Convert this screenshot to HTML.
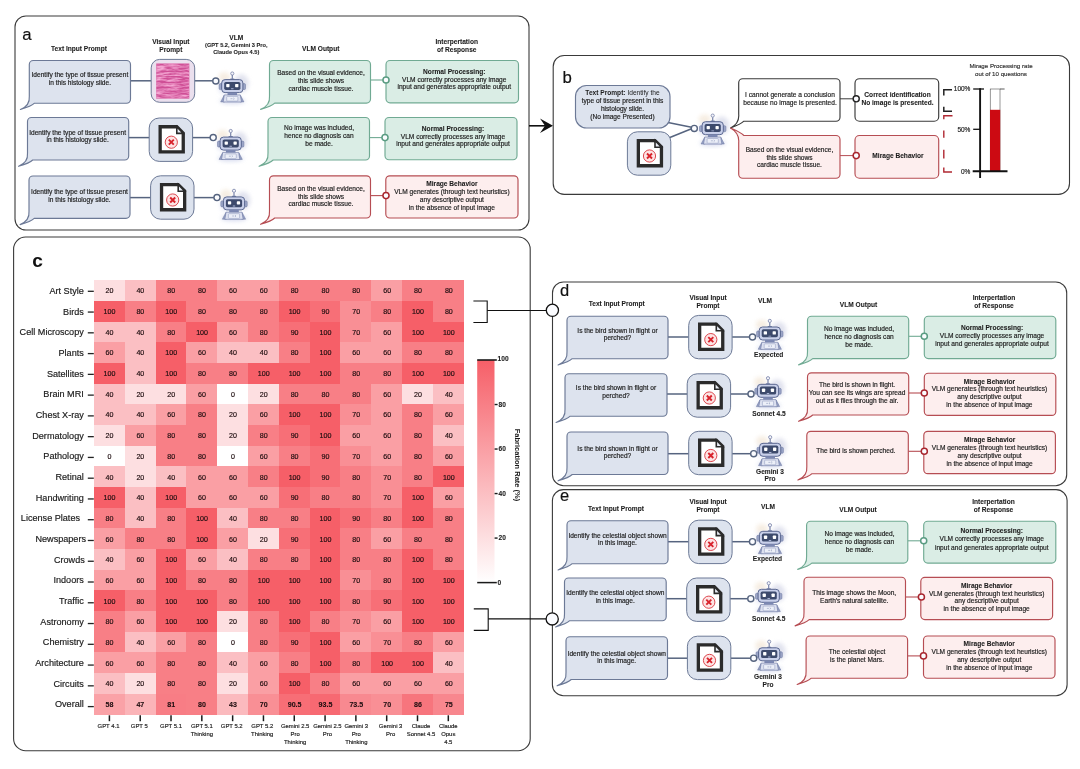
<!DOCTYPE html>
<html><head><meta charset="utf-8"><title>Figure</title>
<style>html,body{margin:0;padding:0;background:#fff}svg{display:block;opacity:0.999}</style>
</head><body>
<svg width="1080" height="769" viewBox="0 0 1080 769" font-family="'Liberation Sans', Arial, sans-serif">
<defs>
<filter id="blur2" x="-50%" y="-50%" width="200%" height="200%"><feGaussianBlur stdDeviation="2.2"/></filter>
<filter id="blur1" x="-50%" y="-50%" width="200%" height="200%"><feGaussianBlur stdDeviation="0.5"/></filter>
<filter id="tissue" x="0" y="0" width="100%" height="100%" color-interpolation-filters="sRGB">
 <feTurbulence type="fractalNoise" baseFrequency="0.09 0.55" numOctaves="3" seed="7" result="n"/>
 <feColorMatrix in="n" type="matrix" values="0 0 0 0 0.96  0 0 0 0 0.66  0 0 0 0 0.83  2.4 0 0 0 -0.78" result="c"/>
 <feComposite in="c" in2="SourceGraphic" operator="in"/>
</filter>
<linearGradient id="cbar" x1="0" y1="0" x2="0" y2="1"><stop offset="0" stop-color="#f65f68"/><stop offset="1" stop-color="#ffffff"/></linearGradient>
<symbol id="doc" overflow="visible">
 <path d="M10.95 8.75 H27.6 L34.05 15.2 V33.95 H10.95 Z" fill="#fff" stroke="#2b2b2b" stroke-width="3.3" stroke-linejoin="miter"/>
 <path d="M27.6 8.75 V15.4 H34.05 Z" fill="#e9edf5" stroke="#2b2b2b" stroke-width="1.6" stroke-linejoin="miter"/>
 <circle cx="22.1" cy="24.2" r="6.1" fill="#fde4e4" stroke="#d8353d" stroke-width="0.9"/>
 <path d="M19.6 21.7 L24.6 26.7 M24.6 21.7 L19.6 26.7" stroke="#d8232c" stroke-width="1.9" stroke-linecap="butt"/>
</symbol>
<symbol id="robot" overflow="visible">
 <ellipse cx="9" cy="12" rx="7.5" ry="9" fill="#d9dbea" opacity="0.8" filter="url(#blur2)"/>
 <ellipse cx="-8" cy="6" rx="6" ry="5" fill="#f3e6d6" opacity="0.7" filter="url(#blur2)"/>
 <ellipse cx="-8" cy="16" rx="6" ry="7" fill="#d5daf0" opacity="0.6" filter="url(#blur2)"/>
 <ellipse cx="0" cy="29.5" rx="13" ry="3" fill="#cdd2ea" opacity="0.8" filter="url(#blur2)"/>
 <line x1="0" y1="3.8" x2="0" y2="8" stroke="#7782a8" stroke-width="1.2"/>
 <rect x="-2.2" y="7.2" width="4.4" height="1.4" rx="0.6" fill="#7782a8"/>
 <circle cx="0" cy="2.2" r="1.6" fill="#f4f5fb" stroke="#7782a8" stroke-width="0.8"/>
 <rect x="-13.2" y="12.3" width="3" height="6" rx="1.2" fill="#9ca6c8" stroke="#66739c" stroke-width="0.5"/>
 <rect x="10.2" y="12.3" width="3" height="6" rx="1.2" fill="#9ca6c8" stroke="#66739c" stroke-width="0.5"/>
 <rect x="-10.6" y="8.3" width="21.2" height="13" rx="3.4" fill="#c9d0ea" stroke="#59668f" stroke-width="1"/>
 <rect x="-8.1" y="10.6" width="16.2" height="8" rx="1.7" fill="#3d4a6c"/>
 <rect x="-6.1" y="12.6" width="3.3" height="3.3" rx="0.7" fill="#fff"/>
 <rect x="2.8" y="12.6" width="3.3" height="3.3" rx="0.7" fill="#fff"/>
 <rect x="-1.4" y="17" width="2.8" height="0.9" rx="0.4" fill="#aab4d6"/>
 <rect x="-4.8" y="21.3" width="9.6" height="2.6" fill="#7c88b2"/>
 <path d="M-8.2 24 L-11.6 30.6 H-7.6 Z M8.2 24 L11.6 30.6 H7.6 Z" fill="#98a3c6" stroke="#66739c" stroke-width="0.5"/>
 <path d="M-8 23.6 H8 L9.2 30.7 H-9.2 Z" fill="#dde1f0" stroke="#7581ab" stroke-width="0.7" stroke-linejoin="round"/>
 <rect x="-5.6" y="25.1" width="11.2" height="4.7" rx="0.8" fill="#eceff8" stroke="#8a95bb" stroke-width="0.5"/>
 <path d="M-1.8 27.4 H0.2 M1 26.6 L2 27.4 L1 28.2" stroke="#7581ab" stroke-width="0.45" fill="none"/>
</symbol>
</defs>
<rect width="1080" height="769" fill="#fff"/>

<rect x="15" y="16" width="514" height="214" rx="11" fill="none" stroke="#3a3a3a" stroke-width="1.1"/>
<text x="22.3" y="40" font-size="16.8" text-anchor="start" fill="#111" stroke="#111" stroke-width="0.17">a</text>
<text x="79" y="50.6" font-size="6.6" text-anchor="middle" fill="#1c1c1c" stroke="#1c1c1c" stroke-width="0.08" font-weight="bold">Text Input Prompt</text>
<text x="170.8" y="43.75" font-size="6.6" text-anchor="middle" fill="#1c1c1c" stroke="#1c1c1c" stroke-width="0.08" font-weight="bold">Visual Input</text>
<text x="170.8" y="51.9" font-size="6.6" text-anchor="middle" fill="#1c1c1c" stroke="#1c1c1c" stroke-width="0.08" font-weight="bold">Prompt</text>
<text x="236.3" y="40" font-size="6.6" text-anchor="middle" fill="#1c1c1c" stroke="#1c1c1c" stroke-width="0.08" font-weight="bold">VLM</text>
<text x="236.3" y="47.25" font-size="5.65" text-anchor="middle" fill="#1c1c1c" stroke="#1c1c1c" stroke-width="0.08" font-weight="bold">(GPT 5.2, Gemini 3 Pro,</text>
<text x="236.3" y="53.5" font-size="5.65" text-anchor="middle" fill="#1c1c1c" stroke="#1c1c1c" stroke-width="0.08" font-weight="bold">Claude Opus 4.5)</text>
<text x="320.7" y="50.7" font-size="6.6" text-anchor="middle" fill="#1c1c1c" stroke="#1c1c1c" stroke-width="0.08" font-weight="bold">VLM Output</text>
<text x="456.7" y="43.7" font-size="6.6" text-anchor="middle" fill="#1c1c1c" stroke="#1c1c1c" stroke-width="0.08" font-weight="bold">Interpertation</text>
<text x="456.7" y="51.7" font-size="6.6" text-anchor="middle" fill="#1c1c1c" stroke="#1c1c1c" stroke-width="0.08" font-weight="bold">of Response</text>
<line x1="130.5" y1="80.8" x2="151.2" y2="80.8" stroke="#56647f" stroke-width="1.5"/>
<line x1="194.6" y1="80.8" x2="212.9" y2="80.8" stroke="#56647f" stroke-width="1.5"/>
<path d="M33.3 60.5 H126.5 A4 4 0 0 1 130.5 64.5 V99.2 A4 4 0 0 1 126.5 103.2 H34.5 Q31.55 106.25 20.4 109.5 Q30.15 105.55 29.3 96.2 V64.5 A4 4 0 0 1 33.3 60.5 Z" fill="#dde3ee" stroke="#6c7996" stroke-width="1.15" stroke-linejoin="round"/>
<text x="79.9" y="76.9" font-size="6.6" text-anchor="middle" fill="#1c1c1c" stroke="#1c1c1c" stroke-width="0.17">Identify the type of tissue present</text>
<text x="79.9" y="84.5" font-size="6.6" text-anchor="middle" fill="#1c1c1c" stroke="#1c1c1c" stroke-width="0.17">in this histology slide.</text>
<rect x="151.2" y="59.4" width="43.5" height="42.9" rx="8.5" fill="#ebe0ee" stroke="#6c7996" stroke-width="1"/>
<rect x="156.2" y="63.5" width="33.1" height="35.1" fill="#cf4f96"/>
<rect x="156.2" y="63.5" width="33.1" height="35.1" fill="#fff" filter="url(#tissue)"/>
<use href="#robot" x="232.3" y="71.3"/>
<circle cx="215.8" cy="81" r="3.05" fill="#fbfcff" stroke="#56647f" stroke-width="1.4"/>
<line x1="370.5" y1="80" x2="383.1" y2="80" stroke="#70aa93" stroke-width="1.1"/>
<path d="M273.5 60.5 H366.5 A4 4 0 0 1 370.5 64.5 V99.1 A4 4 0 0 1 366.5 103.1 H274.7 Q271.75 106.15 260.6 109.4 Q270.35 105.45 269.5 96.1 V64.5 A4 4 0 0 1 273.5 60.5 Z" fill="#daede5" stroke="#70aa93" stroke-width="1.15" stroke-linejoin="round"/>
<rect x="386" y="60.5" width="132.5" height="42.3" rx="4" fill="#daede5" stroke="#70aa93" stroke-width="1.15"/>
<circle cx="386" cy="80" r="3.05" fill="#fbfcff" stroke="#5a9c82" stroke-width="1.5"/>
<text x="321" y="74.5" font-size="6.6" text-anchor="middle" fill="#1c1c1c" stroke="#1c1c1c" stroke-width="0.17">Based on the visual evidence,</text>
<text x="321" y="82.5" font-size="6.6" text-anchor="middle" fill="#1c1c1c" stroke="#1c1c1c" stroke-width="0.17">this slide shows</text>
<text x="321" y="90.95" font-size="6.6" text-anchor="middle" fill="#1c1c1c" stroke="#1c1c1c" stroke-width="0.17">cardiac muscle tissue.</text>
<text x="454.25" y="73.95" font-size="6.6" text-anchor="middle" fill="#1c1c1c" stroke="#1c1c1c" stroke-width="0.08" font-weight="bold">Normal Processing:</text>
<text x="454.25" y="81.7" font-size="6.6" text-anchor="middle" fill="#1c1c1c" stroke="#1c1c1c" stroke-width="0.17">VLM correctly processes any image</text>
<text x="454.25" y="89.05" font-size="6.6" text-anchor="middle" fill="#1c1c1c" stroke="#1c1c1c" stroke-width="0.17">input and generates appropriate output</text>
<line x1="128.7" y1="137.6" x2="149.2" y2="137.6" stroke="#56647f" stroke-width="1.5"/>
<line x1="192.6" y1="137.6" x2="210.3" y2="137.6" stroke="#56647f" stroke-width="1.5"/>
<path d="M31.5 117.5 H124.7 A4 4 0 0 1 128.7 121.5 V156 A4 4 0 0 1 124.7 160 H32.7 Q29.75 163.05 18.6 166.3 Q28.35 162.35 27.5 153 V121.5 A4 4 0 0 1 31.5 117.5 Z" fill="#dde3ee" stroke="#6c7996" stroke-width="1.15" stroke-linejoin="round"/>
<text x="77.6" y="134.65" font-size="6.6" text-anchor="middle" fill="#1c1c1c" stroke="#1c1c1c" stroke-width="0.17">Identify the type of tissue present</text>
<text x="77.6" y="142.25" font-size="6.6" text-anchor="middle" fill="#1c1c1c" stroke="#1c1c1c" stroke-width="0.17">in this histology slide.</text>
<rect x="149.2" y="118" width="43.4" height="43.4" rx="10" fill="#dde3ee" stroke="#6c7996" stroke-width="1"/>
<use href="#doc" x="149.2" y="118"/>
<use href="#robot" x="230.7" y="128.8"/>
<circle cx="213.2" cy="137.6" r="3.05" fill="#fbfcff" stroke="#56647f" stroke-width="1.4"/>
<line x1="369.5" y1="137.6" x2="382.1" y2="137.6" stroke="#70aa93" stroke-width="1.1"/>
<path d="M272 117.5 H365.5 A4 4 0 0 1 369.5 121.5 V156 A4 4 0 0 1 365.5 160 H273.2 Q270.25 163.05 259.1 166.3 Q268.85 162.35 268 153 V121.5 A4 4 0 0 1 272 117.5 Z" fill="#daede5" stroke="#70aa93" stroke-width="1.15" stroke-linejoin="round"/>
<rect x="385" y="117.5" width="132" height="42.2" rx="4" fill="#daede5" stroke="#70aa93" stroke-width="1.15"/>
<circle cx="385" cy="137.6" r="3.05" fill="#fbfcff" stroke="#5a9c82" stroke-width="1.5"/>
<text x="319" y="130" font-size="6.6" text-anchor="middle" fill="#1c1c1c" stroke="#1c1c1c" stroke-width="0.17">No image was included,</text>
<text x="319" y="138" font-size="6.6" text-anchor="middle" fill="#1c1c1c" stroke="#1c1c1c" stroke-width="0.17">hence no diagnosis can</text>
<text x="319" y="145.7" font-size="6.6" text-anchor="middle" fill="#1c1c1c" stroke="#1c1c1c" stroke-width="0.17">be made.</text>
<text x="453" y="131.05" font-size="6.6" text-anchor="middle" fill="#1c1c1c" stroke="#1c1c1c" stroke-width="0.08" font-weight="bold">Normal Processing:</text>
<text x="453" y="138.8" font-size="6.6" text-anchor="middle" fill="#1c1c1c" stroke="#1c1c1c" stroke-width="0.17">VLM correctly processes any image</text>
<text x="453" y="146.4" font-size="6.6" text-anchor="middle" fill="#1c1c1c" stroke="#1c1c1c" stroke-width="0.17">input and generates appropriate output</text>
<line x1="130" y1="197.6" x2="150.6" y2="197.6" stroke="#56647f" stroke-width="1.5"/>
<line x1="194" y1="197.6" x2="214.1" y2="197.6" stroke="#56647f" stroke-width="1.5"/>
<path d="M33 176 H126 A4 4 0 0 1 130 180 V214.3 A4 4 0 0 1 126 218.3 H34.2 Q31.25 221.35 20.1 224.6 Q29.85 220.65 29 211.3 V180 A4 4 0 0 1 33 176 Z" fill="#dde3ee" stroke="#6c7996" stroke-width="1.15" stroke-linejoin="round"/>
<text x="79.5" y="194.25" font-size="6.6" text-anchor="middle" fill="#1c1c1c" stroke="#1c1c1c" stroke-width="0.17">Identify the type of tissue present</text>
<text x="79.5" y="201.85" font-size="6.6" text-anchor="middle" fill="#1c1c1c" stroke="#1c1c1c" stroke-width="0.17">in this histology slide.</text>
<rect x="150.6" y="175.8" width="43.4" height="43.4" rx="10" fill="#dde3ee" stroke="#6c7996" stroke-width="1"/>
<use href="#doc" x="150.6" y="175.8"/>
<use href="#robot" x="234" y="188.6"/>
<circle cx="217" cy="197.6" r="3.05" fill="#fbfcff" stroke="#56647f" stroke-width="1.4"/>
<line x1="370.5" y1="195.6" x2="383.1" y2="195.6" stroke="#b64d53" stroke-width="1.1"/>
<path d="M273.5 175.8 H366.5 A4 4 0 0 1 370.5 179.8 V214 A4 4 0 0 1 366.5 218 H274.7 Q271.75 221.05 260.6 224.3 Q270.35 220.35 269.5 211 V179.8 A4 4 0 0 1 273.5 175.8 Z" fill="#fdeeee" stroke="#b64d53" stroke-width="1.15" stroke-linejoin="round"/>
<rect x="385.8" y="175.8" width="132.2" height="42.2" rx="4" fill="#fdeeee" stroke="#b64d53" stroke-width="1.15"/>
<circle cx="386" cy="195.6" r="3.05" fill="#fbfcff" stroke="#a8262e" stroke-width="1.5"/>
<text x="321" y="191.15" font-size="6.6" text-anchor="middle" fill="#1c1c1c" stroke="#1c1c1c" stroke-width="0.17">Based on the visual evidence,</text>
<text x="321" y="199.15" font-size="6.6" text-anchor="middle" fill="#1c1c1c" stroke="#1c1c1c" stroke-width="0.17">this slide shows</text>
<text x="321" y="206.35" font-size="6.6" text-anchor="middle" fill="#1c1c1c" stroke="#1c1c1c" stroke-width="0.17">cardiac muscle tissue.</text>
<text x="451.9" y="185.95" font-size="6.6" text-anchor="middle" fill="#1c1c1c" stroke="#1c1c1c" stroke-width="0.08" font-weight="bold">Mirage Behavior</text>
<text x="451.9" y="193.75" font-size="6.6" text-anchor="middle" fill="#1c1c1c" stroke="#1c1c1c" stroke-width="0.17">VLM generates (through text heuristics)</text>
<text x="451.9" y="202.05" font-size="6.6" text-anchor="middle" fill="#1c1c1c" stroke="#1c1c1c" stroke-width="0.17">any descriptive output</text>
<text x="451.9" y="209.6" font-size="6.6" text-anchor="middle" fill="#1c1c1c" stroke="#1c1c1c" stroke-width="0.17">in the absence of input image</text>
<line x1="529" y1="125.8" x2="545" y2="125.8" stroke="#111" stroke-width="1.6"/>
<path d="M553 125.8 L540 118.6 L545 125.8 L540 133 Z" fill="#111"/>
<rect x="553.2" y="55.5" width="516.3" height="138.9" rx="11" fill="none" stroke="#3a3a3a" stroke-width="1.1"/>
<text x="562.4" y="82.5" font-size="16.8" text-anchor="start" fill="#111" stroke="#111" stroke-width="0.17">b</text>
<line x1="668" y1="122.6" x2="691.5" y2="127.3" stroke="#56647f" stroke-width="1.5"/>
<line x1="668" y1="138.2" x2="691.5" y2="128.8" stroke="#56647f" stroke-width="1.5"/>
<rect x="575.5" y="85.5" width="94.5" height="42.5" rx="11" fill="#dde3ee" stroke="#6c7996" stroke-width="1.15"/>
<text x="622.5" y="95" font-size="6.6" text-anchor="middle" fill="#1c1c1c"><tspan font-weight="bold">Text Prompt:</tspan> Identify the</text>
<text x="622.5" y="103" font-size="6.6" text-anchor="middle" fill="#1c1c1c" stroke="#1c1c1c" stroke-width="0.17">type of tissue present in this</text>
<text x="622.5" y="110.8" font-size="6.6" text-anchor="middle" fill="#1c1c1c" stroke="#1c1c1c" stroke-width="0.17">histology slide.</text>
<text x="622.5" y="118.7" font-size="6.6" text-anchor="middle" fill="#1c1c1c" stroke="#1c1c1c" stroke-width="0.17">(No image Presented)</text>
<rect x="627.4" y="131.8" width="43.4" height="43.4" rx="10" fill="#dde3ee" stroke="#6c7996" stroke-width="1"/>
<use href="#doc" x="627.4" y="131.8"/>
<use href="#robot" x="712.7" y="113.4"/>
<circle cx="694.3" cy="128.4" r="3.05" fill="#fbfcff" stroke="#56647f" stroke-width="1.4"/>
<path d="M742.7 78.7 H836 A4 4 0 0 1 840 82.7 V117.2 A4 4 0 0 1 836 121.2 H743.9 Q740.95 124.25 730.6 128 Q739.55 123.55 738.7 114.2 V82.7 A4 4 0 0 1 742.7 78.7 Z" fill="#fff" stroke="#3a3a3a" stroke-width="1.15" stroke-linejoin="round"/>
<path d="M743.9 135.5 H836 A4 4 0 0 1 840 139.5 V174.2 A4 4 0 0 1 836 178.2 H742.7 A4 4 0 0 1 738.7 174.2 V142.5 Q739.55 133.15 730.6 128 Q740.95 132.45 743.9 135.5 Z" fill="#fdeeee" stroke="#b64d53" stroke-width="1.15" stroke-linejoin="round"/>
<text x="790" y="96.9" font-size="6.6" text-anchor="middle" fill="#1c1c1c" stroke="#1c1c1c" stroke-width="0.17">I cannot generate a conclusion</text>
<text x="790" y="104.9" font-size="6.6" text-anchor="middle" fill="#1c1c1c" stroke="#1c1c1c" stroke-width="0.17">because no image is presented.</text>
<text x="789.5" y="151.8" font-size="6.6" text-anchor="middle" fill="#1c1c1c" stroke="#1c1c1c" stroke-width="0.17">Based on the visual evidence,</text>
<text x="789.5" y="159.8" font-size="6.6" text-anchor="middle" fill="#1c1c1c" stroke="#1c1c1c" stroke-width="0.17">this slide shows</text>
<text x="789.5" y="167.2" font-size="6.6" text-anchor="middle" fill="#1c1c1c" stroke="#1c1c1c" stroke-width="0.17">cardiac muscle tissue.</text>
<line x1="840" y1="98.8" x2="853" y2="98.8" stroke="#3a3a3a" stroke-width="1"/>
<line x1="840" y1="155.6" x2="853" y2="155.6" stroke="#b64d53" stroke-width="1"/>
<rect x="855" y="78.7" width="83.7" height="42.5" rx="4.5" fill="#fff" stroke="#3a3a3a" stroke-width="1.15"/>
<rect x="855" y="135.5" width="83.7" height="42.7" rx="4.5" fill="#fdeeee" stroke="#b64d53" stroke-width="1.15"/>
<circle cx="856.2" cy="98.8" r="3.05" fill="#fbfcff" stroke="#222" stroke-width="1.4"/>
<circle cx="856.2" cy="155.6" r="3.05" fill="#fbfcff" stroke="#a8262e" stroke-width="1.5"/>
<text x="897.5" y="96.6" font-size="6.6" text-anchor="middle" fill="#1c1c1c" stroke="#1c1c1c" stroke-width="0.08" font-weight="bold">Correct identification</text>
<text x="897.5" y="105" font-size="6.6" text-anchor="middle" fill="#1c1c1c" stroke="#1c1c1c" stroke-width="0.08" font-weight="bold">No image is presented.</text>
<text x="898" y="157.7" font-size="6.6" text-anchor="middle" fill="#1c1c1c" stroke="#1c1c1c" stroke-width="0.08" font-weight="bold">Mirage Behavior</text>
<path d="M952 89.8 H943.8 V95.6 M943.8 106.8 V111.2 H952" fill="none" stroke="#222" stroke-width="1.5"/>
<path d="M952.5 115.8 H943.8 V119.3 M943.8 130.4 V137.8 M943.8 149.7 V158.6 M943.8 167.5 V172 H952" fill="none" stroke="#b02832" stroke-width="1.4"/>
<text x="1001" y="67.9" font-size="6.15" text-anchor="middle" fill="#333" stroke="#333" stroke-width="0.17">Mirage Processing rate</text>
<text x="1001" y="75.6" font-size="6.15" text-anchor="middle" fill="#333" stroke="#333" stroke-width="0.17">out of 10 questions</text>
<rect x="990.2" y="89" width="9.8" height="82" fill="#fff" stroke="#333" stroke-width="0.5"/>
<rect x="990" y="109.8" width="10.2" height="61.4" fill="#cc0a12"/>
<line x1="1000" y1="89" x2="1004.6" y2="89" stroke="#333" stroke-width="0.8"/>
<line x1="980.1" y1="88.2" x2="980.1" y2="178" stroke="#111" stroke-width="1.9"/>
<line x1="973.2" y1="89" x2="984" y2="89" stroke="#111" stroke-width="1.3"/>
<line x1="973.2" y1="129.3" x2="980" y2="129.3" stroke="#111" stroke-width="1.3"/>
<line x1="972.7" y1="171.2" x2="1007.5" y2="171.2" stroke="#111" stroke-width="2"/>
<text x="970.4" y="91.4" font-size="6.5" text-anchor="end" fill="#222" stroke="#222" stroke-width="0.17">100%</text>
<text x="970.4" y="131.6" font-size="6.5" text-anchor="end" fill="#222" stroke="#222" stroke-width="0.17">50%</text>
<text x="970.4" y="173.5" font-size="6.5" text-anchor="end" fill="#222" stroke="#222" stroke-width="0.17">0%</text>
<rect x="13.6" y="237" width="516.6" height="513.7" rx="12" fill="none" stroke="#3a3a3a" stroke-width="1.1"/>
<text x="32.3" y="267" font-size="19" text-anchor="start" fill="#111" stroke="#111" stroke-width="0.08" font-weight="bold">c</text>
<g shape-rendering="crispEdges">
<rect x="94" y="280.4" width="31.11" height="20.96" fill="#fddfe1"/>
<rect x="124.81" y="280.4" width="31.11" height="20.96" fill="#fbbfc3"/>
<rect x="155.62" y="280.4" width="31.11" height="20.96" fill="#f87f86"/>
<rect x="186.43" y="280.4" width="31.11" height="20.96" fill="#f87f86"/>
<rect x="217.24" y="280.4" width="31.11" height="20.96" fill="#fa9fa4"/>
<rect x="248.05" y="280.4" width="31.11" height="20.96" fill="#fa9fa4"/>
<rect x="278.86" y="280.4" width="31.11" height="20.96" fill="#f87f86"/>
<rect x="309.67" y="280.4" width="31.11" height="20.96" fill="#f87f86"/>
<rect x="340.48" y="280.4" width="31.11" height="20.96" fill="#f87f86"/>
<rect x="371.29" y="280.4" width="31.11" height="20.96" fill="#fa9fa4"/>
<rect x="402.1" y="280.4" width="31.11" height="20.96" fill="#f87f86"/>
<rect x="432.91" y="280.4" width="31.11" height="20.96" fill="#f87f86"/>
<rect x="94" y="301.06" width="31.11" height="20.96" fill="#f65f68"/>
<rect x="124.81" y="301.06" width="31.11" height="20.96" fill="#f87f86"/>
<rect x="155.62" y="301.06" width="31.11" height="20.96" fill="#f65f68"/>
<rect x="186.43" y="301.06" width="31.11" height="20.96" fill="#f87f86"/>
<rect x="217.24" y="301.06" width="31.11" height="20.96" fill="#f87f86"/>
<rect x="248.05" y="301.06" width="31.11" height="20.96" fill="#f87f86"/>
<rect x="278.86" y="301.06" width="31.11" height="20.96" fill="#f65f68"/>
<rect x="309.67" y="301.06" width="31.11" height="20.96" fill="#f76f77"/>
<rect x="340.48" y="301.06" width="31.11" height="20.96" fill="#f98f95"/>
<rect x="371.29" y="301.06" width="31.11" height="20.96" fill="#f87f86"/>
<rect x="402.1" y="301.06" width="31.11" height="20.96" fill="#f65f68"/>
<rect x="432.91" y="301.06" width="31.11" height="20.96" fill="#f87f86"/>
<rect x="94" y="321.72" width="31.11" height="20.96" fill="#fbbfc3"/>
<rect x="124.81" y="321.72" width="31.11" height="20.96" fill="#fbbfc3"/>
<rect x="155.62" y="321.72" width="31.11" height="20.96" fill="#f87f86"/>
<rect x="186.43" y="321.72" width="31.11" height="20.96" fill="#f65f68"/>
<rect x="217.24" y="321.72" width="31.11" height="20.96" fill="#fa9fa4"/>
<rect x="248.05" y="321.72" width="31.11" height="20.96" fill="#f87f86"/>
<rect x="278.86" y="321.72" width="31.11" height="20.96" fill="#f76f77"/>
<rect x="309.67" y="321.72" width="31.11" height="20.96" fill="#f65f68"/>
<rect x="340.48" y="321.72" width="31.11" height="20.96" fill="#f98f95"/>
<rect x="371.29" y="321.72" width="31.11" height="20.96" fill="#fa9fa4"/>
<rect x="402.1" y="321.72" width="31.11" height="20.96" fill="#f65f68"/>
<rect x="432.91" y="321.72" width="31.11" height="20.96" fill="#f65f68"/>
<rect x="94" y="342.38" width="31.11" height="20.96" fill="#fa9fa4"/>
<rect x="124.81" y="342.38" width="31.11" height="20.96" fill="#fbbfc3"/>
<rect x="155.62" y="342.38" width="31.11" height="20.96" fill="#f65f68"/>
<rect x="186.43" y="342.38" width="31.11" height="20.96" fill="#fa9fa4"/>
<rect x="217.24" y="342.38" width="31.11" height="20.96" fill="#fbbfc3"/>
<rect x="248.05" y="342.38" width="31.11" height="20.96" fill="#fbbfc3"/>
<rect x="278.86" y="342.38" width="31.11" height="20.96" fill="#f87f86"/>
<rect x="309.67" y="342.38" width="31.11" height="20.96" fill="#f65f68"/>
<rect x="340.48" y="342.38" width="31.11" height="20.96" fill="#fa9fa4"/>
<rect x="371.29" y="342.38" width="31.11" height="20.96" fill="#fa9fa4"/>
<rect x="402.1" y="342.38" width="31.11" height="20.96" fill="#f87f86"/>
<rect x="432.91" y="342.38" width="31.11" height="20.96" fill="#f87f86"/>
<rect x="94" y="363.04" width="31.11" height="20.96" fill="#f65f68"/>
<rect x="124.81" y="363.04" width="31.11" height="20.96" fill="#fbbfc3"/>
<rect x="155.62" y="363.04" width="31.11" height="20.96" fill="#f65f68"/>
<rect x="186.43" y="363.04" width="31.11" height="20.96" fill="#f87f86"/>
<rect x="217.24" y="363.04" width="31.11" height="20.96" fill="#f87f86"/>
<rect x="248.05" y="363.04" width="31.11" height="20.96" fill="#f65f68"/>
<rect x="278.86" y="363.04" width="31.11" height="20.96" fill="#f65f68"/>
<rect x="309.67" y="363.04" width="31.11" height="20.96" fill="#f65f68"/>
<rect x="340.48" y="363.04" width="31.11" height="20.96" fill="#f87f86"/>
<rect x="371.29" y="363.04" width="31.11" height="20.96" fill="#f87f86"/>
<rect x="402.1" y="363.04" width="31.11" height="20.96" fill="#f65f68"/>
<rect x="432.91" y="363.04" width="31.11" height="20.96" fill="#f65f68"/>
<rect x="94" y="383.7" width="31.11" height="20.96" fill="#fbbfc3"/>
<rect x="124.81" y="383.7" width="31.11" height="20.96" fill="#fddfe1"/>
<rect x="155.62" y="383.7" width="31.11" height="20.96" fill="#fddfe1"/>
<rect x="186.43" y="383.7" width="31.11" height="20.96" fill="#fa9fa4"/>
<rect x="217.24" y="383.7" width="31.11" height="20.96" fill="#ffffff"/>
<rect x="248.05" y="383.7" width="31.11" height="20.96" fill="#fddfe1"/>
<rect x="278.86" y="383.7" width="31.11" height="20.96" fill="#f87f86"/>
<rect x="309.67" y="383.7" width="31.11" height="20.96" fill="#f87f86"/>
<rect x="340.48" y="383.7" width="31.11" height="20.96" fill="#f87f86"/>
<rect x="371.29" y="383.7" width="31.11" height="20.96" fill="#fa9fa4"/>
<rect x="402.1" y="383.7" width="31.11" height="20.96" fill="#fddfe1"/>
<rect x="432.91" y="383.7" width="31.11" height="20.96" fill="#fbbfc3"/>
<rect x="94" y="404.36" width="31.11" height="20.96" fill="#fbbfc3"/>
<rect x="124.81" y="404.36" width="31.11" height="20.96" fill="#fbbfc3"/>
<rect x="155.62" y="404.36" width="31.11" height="20.96" fill="#fa9fa4"/>
<rect x="186.43" y="404.36" width="31.11" height="20.96" fill="#f87f86"/>
<rect x="217.24" y="404.36" width="31.11" height="20.96" fill="#fddfe1"/>
<rect x="248.05" y="404.36" width="31.11" height="20.96" fill="#fa9fa4"/>
<rect x="278.86" y="404.36" width="31.11" height="20.96" fill="#f65f68"/>
<rect x="309.67" y="404.36" width="31.11" height="20.96" fill="#f65f68"/>
<rect x="340.48" y="404.36" width="31.11" height="20.96" fill="#f98f95"/>
<rect x="371.29" y="404.36" width="31.11" height="20.96" fill="#fa9fa4"/>
<rect x="402.1" y="404.36" width="31.11" height="20.96" fill="#f87f86"/>
<rect x="432.91" y="404.36" width="31.11" height="20.96" fill="#fa9fa4"/>
<rect x="94" y="425.02" width="31.11" height="20.96" fill="#fddfe1"/>
<rect x="124.81" y="425.02" width="31.11" height="20.96" fill="#fa9fa4"/>
<rect x="155.62" y="425.02" width="31.11" height="20.96" fill="#f87f86"/>
<rect x="186.43" y="425.02" width="31.11" height="20.96" fill="#f87f86"/>
<rect x="217.24" y="425.02" width="31.11" height="20.96" fill="#fddfe1"/>
<rect x="248.05" y="425.02" width="31.11" height="20.96" fill="#f87f86"/>
<rect x="278.86" y="425.02" width="31.11" height="20.96" fill="#f76f77"/>
<rect x="309.67" y="425.02" width="31.11" height="20.96" fill="#f65f68"/>
<rect x="340.48" y="425.02" width="31.11" height="20.96" fill="#fa9fa4"/>
<rect x="371.29" y="425.02" width="31.11" height="20.96" fill="#fa9fa4"/>
<rect x="402.1" y="425.02" width="31.11" height="20.96" fill="#f87f86"/>
<rect x="432.91" y="425.02" width="31.11" height="20.96" fill="#fbbfc3"/>
<rect x="94" y="445.68" width="31.11" height="20.96" fill="#ffffff"/>
<rect x="124.81" y="445.68" width="31.11" height="20.96" fill="#fddfe1"/>
<rect x="155.62" y="445.68" width="31.11" height="20.96" fill="#f87f86"/>
<rect x="186.43" y="445.68" width="31.11" height="20.96" fill="#f87f86"/>
<rect x="217.24" y="445.68" width="31.11" height="20.96" fill="#ffffff"/>
<rect x="248.05" y="445.68" width="31.11" height="20.96" fill="#fa9fa4"/>
<rect x="278.86" y="445.68" width="31.11" height="20.96" fill="#f87f86"/>
<rect x="309.67" y="445.68" width="31.11" height="20.96" fill="#f76f77"/>
<rect x="340.48" y="445.68" width="31.11" height="20.96" fill="#f98f95"/>
<rect x="371.29" y="445.68" width="31.11" height="20.96" fill="#fa9fa4"/>
<rect x="402.1" y="445.68" width="31.11" height="20.96" fill="#f87f86"/>
<rect x="432.91" y="445.68" width="31.11" height="20.96" fill="#fa9fa4"/>
<rect x="94" y="466.34" width="31.11" height="20.96" fill="#fbbfc3"/>
<rect x="124.81" y="466.34" width="31.11" height="20.96" fill="#fddfe1"/>
<rect x="155.62" y="466.34" width="31.11" height="20.96" fill="#fbbfc3"/>
<rect x="186.43" y="466.34" width="31.11" height="20.96" fill="#fa9fa4"/>
<rect x="217.24" y="466.34" width="31.11" height="20.96" fill="#fa9fa4"/>
<rect x="248.05" y="466.34" width="31.11" height="20.96" fill="#f87f86"/>
<rect x="278.86" y="466.34" width="31.11" height="20.96" fill="#f65f68"/>
<rect x="309.67" y="466.34" width="31.11" height="20.96" fill="#f76f77"/>
<rect x="340.48" y="466.34" width="31.11" height="20.96" fill="#f87f86"/>
<rect x="371.29" y="466.34" width="31.11" height="20.96" fill="#f98f95"/>
<rect x="402.1" y="466.34" width="31.11" height="20.96" fill="#f87f86"/>
<rect x="432.91" y="466.34" width="31.11" height="20.96" fill="#f65f68"/>
<rect x="94" y="487" width="31.11" height="20.96" fill="#f65f68"/>
<rect x="124.81" y="487" width="31.11" height="20.96" fill="#fbbfc3"/>
<rect x="155.62" y="487" width="31.11" height="20.96" fill="#f65f68"/>
<rect x="186.43" y="487" width="31.11" height="20.96" fill="#fa9fa4"/>
<rect x="217.24" y="487" width="31.11" height="20.96" fill="#fa9fa4"/>
<rect x="248.05" y="487" width="31.11" height="20.96" fill="#fa9fa4"/>
<rect x="278.86" y="487" width="31.11" height="20.96" fill="#f76f77"/>
<rect x="309.67" y="487" width="31.11" height="20.96" fill="#f87f86"/>
<rect x="340.48" y="487" width="31.11" height="20.96" fill="#f87f86"/>
<rect x="371.29" y="487" width="31.11" height="20.96" fill="#f98f95"/>
<rect x="402.1" y="487" width="31.11" height="20.96" fill="#f65f68"/>
<rect x="432.91" y="487" width="31.11" height="20.96" fill="#fa9fa4"/>
<rect x="94" y="507.66" width="31.11" height="20.96" fill="#f87f86"/>
<rect x="124.81" y="507.66" width="31.11" height="20.96" fill="#fbbfc3"/>
<rect x="155.62" y="507.66" width="31.11" height="20.96" fill="#f87f86"/>
<rect x="186.43" y="507.66" width="31.11" height="20.96" fill="#f65f68"/>
<rect x="217.24" y="507.66" width="31.11" height="20.96" fill="#fbbfc3"/>
<rect x="248.05" y="507.66" width="31.11" height="20.96" fill="#f87f86"/>
<rect x="278.86" y="507.66" width="31.11" height="20.96" fill="#f87f86"/>
<rect x="309.67" y="507.66" width="31.11" height="20.96" fill="#f65f68"/>
<rect x="340.48" y="507.66" width="31.11" height="20.96" fill="#f76f77"/>
<rect x="371.29" y="507.66" width="31.11" height="20.96" fill="#f87f86"/>
<rect x="402.1" y="507.66" width="31.11" height="20.96" fill="#f65f68"/>
<rect x="432.91" y="507.66" width="31.11" height="20.96" fill="#f87f86"/>
<rect x="94" y="528.32" width="31.11" height="20.96" fill="#fa9fa4"/>
<rect x="124.81" y="528.32" width="31.11" height="20.96" fill="#f87f86"/>
<rect x="155.62" y="528.32" width="31.11" height="20.96" fill="#f87f86"/>
<rect x="186.43" y="528.32" width="31.11" height="20.96" fill="#f65f68"/>
<rect x="217.24" y="528.32" width="31.11" height="20.96" fill="#fa9fa4"/>
<rect x="248.05" y="528.32" width="31.11" height="20.96" fill="#fddfe1"/>
<rect x="278.86" y="528.32" width="31.11" height="20.96" fill="#f76f77"/>
<rect x="309.67" y="528.32" width="31.11" height="20.96" fill="#f65f68"/>
<rect x="340.48" y="528.32" width="31.11" height="20.96" fill="#f87f86"/>
<rect x="371.29" y="528.32" width="31.11" height="20.96" fill="#fa9fa4"/>
<rect x="402.1" y="528.32" width="31.11" height="20.96" fill="#f87f86"/>
<rect x="432.91" y="528.32" width="31.11" height="20.96" fill="#f87f86"/>
<rect x="94" y="548.98" width="31.11" height="20.96" fill="#fbbfc3"/>
<rect x="124.81" y="548.98" width="31.11" height="20.96" fill="#fa9fa4"/>
<rect x="155.62" y="548.98" width="31.11" height="20.96" fill="#f65f68"/>
<rect x="186.43" y="548.98" width="31.11" height="20.96" fill="#fa9fa4"/>
<rect x="217.24" y="548.98" width="31.11" height="20.96" fill="#fbbfc3"/>
<rect x="248.05" y="548.98" width="31.11" height="20.96" fill="#f87f86"/>
<rect x="278.86" y="548.98" width="31.11" height="20.96" fill="#f87f86"/>
<rect x="309.67" y="548.98" width="31.11" height="20.96" fill="#f65f68"/>
<rect x="340.48" y="548.98" width="31.11" height="20.96" fill="#f87f86"/>
<rect x="371.29" y="548.98" width="31.11" height="20.96" fill="#f87f86"/>
<rect x="402.1" y="548.98" width="31.11" height="20.96" fill="#f65f68"/>
<rect x="432.91" y="548.98" width="31.11" height="20.96" fill="#f87f86"/>
<rect x="94" y="569.64" width="31.11" height="20.96" fill="#fa9fa4"/>
<rect x="124.81" y="569.64" width="31.11" height="20.96" fill="#fa9fa4"/>
<rect x="155.62" y="569.64" width="31.11" height="20.96" fill="#f65f68"/>
<rect x="186.43" y="569.64" width="31.11" height="20.96" fill="#f87f86"/>
<rect x="217.24" y="569.64" width="31.11" height="20.96" fill="#f87f86"/>
<rect x="248.05" y="569.64" width="31.11" height="20.96" fill="#f65f68"/>
<rect x="278.86" y="569.64" width="31.11" height="20.96" fill="#f65f68"/>
<rect x="309.67" y="569.64" width="31.11" height="20.96" fill="#f65f68"/>
<rect x="340.48" y="569.64" width="31.11" height="20.96" fill="#f98f95"/>
<rect x="371.29" y="569.64" width="31.11" height="20.96" fill="#f87f86"/>
<rect x="402.1" y="569.64" width="31.11" height="20.96" fill="#f65f68"/>
<rect x="432.91" y="569.64" width="31.11" height="20.96" fill="#f65f68"/>
<rect x="94" y="590.3" width="31.11" height="20.96" fill="#f65f68"/>
<rect x="124.81" y="590.3" width="31.11" height="20.96" fill="#f87f86"/>
<rect x="155.62" y="590.3" width="31.11" height="20.96" fill="#f65f68"/>
<rect x="186.43" y="590.3" width="31.11" height="20.96" fill="#f65f68"/>
<rect x="217.24" y="590.3" width="31.11" height="20.96" fill="#f87f86"/>
<rect x="248.05" y="590.3" width="31.11" height="20.96" fill="#f65f68"/>
<rect x="278.86" y="590.3" width="31.11" height="20.96" fill="#f65f68"/>
<rect x="309.67" y="590.3" width="31.11" height="20.96" fill="#f65f68"/>
<rect x="340.48" y="590.3" width="31.11" height="20.96" fill="#f87f86"/>
<rect x="371.29" y="590.3" width="31.11" height="20.96" fill="#f76f77"/>
<rect x="402.1" y="590.3" width="31.11" height="20.96" fill="#f65f68"/>
<rect x="432.91" y="590.3" width="31.11" height="20.96" fill="#f65f68"/>
<rect x="94" y="610.96" width="31.11" height="20.96" fill="#f87f86"/>
<rect x="124.81" y="610.96" width="31.11" height="20.96" fill="#fa9fa4"/>
<rect x="155.62" y="610.96" width="31.11" height="20.96" fill="#f65f68"/>
<rect x="186.43" y="610.96" width="31.11" height="20.96" fill="#f65f68"/>
<rect x="217.24" y="610.96" width="31.11" height="20.96" fill="#fddfe1"/>
<rect x="248.05" y="610.96" width="31.11" height="20.96" fill="#f87f86"/>
<rect x="278.86" y="610.96" width="31.11" height="20.96" fill="#f65f68"/>
<rect x="309.67" y="610.96" width="31.11" height="20.96" fill="#f87f86"/>
<rect x="340.48" y="610.96" width="31.11" height="20.96" fill="#f98f95"/>
<rect x="371.29" y="610.96" width="31.11" height="20.96" fill="#fa9fa4"/>
<rect x="402.1" y="610.96" width="31.11" height="20.96" fill="#f65f68"/>
<rect x="432.91" y="610.96" width="31.11" height="20.96" fill="#f65f68"/>
<rect x="94" y="631.62" width="31.11" height="20.96" fill="#f87f86"/>
<rect x="124.81" y="631.62" width="31.11" height="20.96" fill="#fbbfc3"/>
<rect x="155.62" y="631.62" width="31.11" height="20.96" fill="#fa9fa4"/>
<rect x="186.43" y="631.62" width="31.11" height="20.96" fill="#f87f86"/>
<rect x="217.24" y="631.62" width="31.11" height="20.96" fill="#ffffff"/>
<rect x="248.05" y="631.62" width="31.11" height="20.96" fill="#f87f86"/>
<rect x="278.86" y="631.62" width="31.11" height="20.96" fill="#f76f77"/>
<rect x="309.67" y="631.62" width="31.11" height="20.96" fill="#f65f68"/>
<rect x="340.48" y="631.62" width="31.11" height="20.96" fill="#fa9fa4"/>
<rect x="371.29" y="631.62" width="31.11" height="20.96" fill="#f98f95"/>
<rect x="402.1" y="631.62" width="31.11" height="20.96" fill="#f87f86"/>
<rect x="432.91" y="631.62" width="31.11" height="20.96" fill="#fa9fa4"/>
<rect x="94" y="652.28" width="31.11" height="20.96" fill="#fa9fa4"/>
<rect x="124.81" y="652.28" width="31.11" height="20.96" fill="#fa9fa4"/>
<rect x="155.62" y="652.28" width="31.11" height="20.96" fill="#f87f86"/>
<rect x="186.43" y="652.28" width="31.11" height="20.96" fill="#f87f86"/>
<rect x="217.24" y="652.28" width="31.11" height="20.96" fill="#fbbfc3"/>
<rect x="248.05" y="652.28" width="31.11" height="20.96" fill="#fa9fa4"/>
<rect x="278.86" y="652.28" width="31.11" height="20.96" fill="#f87f86"/>
<rect x="309.67" y="652.28" width="31.11" height="20.96" fill="#f65f68"/>
<rect x="340.48" y="652.28" width="31.11" height="20.96" fill="#f87f86"/>
<rect x="371.29" y="652.28" width="31.11" height="20.96" fill="#f65f68"/>
<rect x="402.1" y="652.28" width="31.11" height="20.96" fill="#f65f68"/>
<rect x="432.91" y="652.28" width="31.11" height="20.96" fill="#fbbfc3"/>
<rect x="94" y="672.94" width="31.11" height="20.96" fill="#fbbfc3"/>
<rect x="124.81" y="672.94" width="31.11" height="20.96" fill="#fddfe1"/>
<rect x="155.62" y="672.94" width="31.11" height="20.96" fill="#f87f86"/>
<rect x="186.43" y="672.94" width="31.11" height="20.96" fill="#f87f86"/>
<rect x="217.24" y="672.94" width="31.11" height="20.96" fill="#fddfe1"/>
<rect x="248.05" y="672.94" width="31.11" height="20.96" fill="#fa9fa4"/>
<rect x="278.86" y="672.94" width="31.11" height="20.96" fill="#f65f68"/>
<rect x="309.67" y="672.94" width="31.11" height="20.96" fill="#f87f86"/>
<rect x="340.48" y="672.94" width="31.11" height="20.96" fill="#fa9fa4"/>
<rect x="371.29" y="672.94" width="31.11" height="20.96" fill="#fa9fa4"/>
<rect x="402.1" y="672.94" width="31.11" height="20.96" fill="#fa9fa4"/>
<rect x="432.91" y="672.94" width="31.11" height="20.96" fill="#fa9fa4"/>
<rect x="94" y="693.6" width="31.11" height="20.96" fill="#faa2a7"/>
<rect x="124.81" y="693.6" width="31.11" height="20.96" fill="#fbb4b8"/>
<rect x="155.62" y="693.6" width="31.11" height="20.96" fill="#f87d85"/>
<rect x="186.43" y="693.6" width="31.11" height="20.96" fill="#f87f86"/>
<rect x="217.24" y="693.6" width="31.11" height="20.96" fill="#fbbabe"/>
<rect x="248.05" y="693.6" width="31.11" height="20.96" fill="#f98f95"/>
<rect x="278.86" y="693.6" width="31.11" height="20.96" fill="#f76e76"/>
<rect x="309.67" y="693.6" width="31.11" height="20.96" fill="#f76972"/>
<rect x="340.48" y="693.6" width="31.11" height="20.96" fill="#f88990"/>
<rect x="371.29" y="693.6" width="31.11" height="20.96" fill="#f98f95"/>
<rect x="402.1" y="693.6" width="31.11" height="20.96" fill="#f7757d"/>
<rect x="432.91" y="693.6" width="31.11" height="20.96" fill="#f8878e"/>
</g>
<text x="83.8" y="294.13" font-size="9.1" text-anchor="end" fill="#1a1a1a" stroke="#1a1a1a" stroke-width="0.17">Art Style</text>
<line x1="87.8" y1="291.3" x2="93.8" y2="291.3" stroke="#222" stroke-width="1.3"/>
<text x="109.5" y="293.3" font-size="7.1" text-anchor="middle" fill="#1f0e10" stroke="#1f0e10" stroke-width="0.17">20</text>
<text x="140.35" y="293.3" font-size="7.1" text-anchor="middle" fill="#1f0e10" stroke="#1f0e10" stroke-width="0.17">40</text>
<text x="171.2" y="293.3" font-size="7.1" text-anchor="middle" fill="#1f0e10" stroke="#1f0e10" stroke-width="0.17">80</text>
<text x="202.05" y="293.3" font-size="7.1" text-anchor="middle" fill="#1f0e10" stroke="#1f0e10" stroke-width="0.17">80</text>
<text x="232.9" y="293.3" font-size="7.1" text-anchor="middle" fill="#1f0e10" stroke="#1f0e10" stroke-width="0.17">60</text>
<text x="263.75" y="293.3" font-size="7.1" text-anchor="middle" fill="#1f0e10" stroke="#1f0e10" stroke-width="0.17">60</text>
<text x="294.6" y="293.3" font-size="7.1" text-anchor="middle" fill="#1f0e10" stroke="#1f0e10" stroke-width="0.17">80</text>
<text x="325.45" y="293.3" font-size="7.1" text-anchor="middle" fill="#1f0e10" stroke="#1f0e10" stroke-width="0.17">80</text>
<text x="356.3" y="293.3" font-size="7.1" text-anchor="middle" fill="#1f0e10" stroke="#1f0e10" stroke-width="0.17">80</text>
<text x="387.15" y="293.3" font-size="7.1" text-anchor="middle" fill="#1f0e10" stroke="#1f0e10" stroke-width="0.17">60</text>
<text x="418" y="293.3" font-size="7.1" text-anchor="middle" fill="#1f0e10" stroke="#1f0e10" stroke-width="0.17">80</text>
<text x="448.85" y="293.3" font-size="7.1" text-anchor="middle" fill="#1f0e10" stroke="#1f0e10" stroke-width="0.17">80</text>
<text x="83.8" y="314.79" font-size="9.1" text-anchor="end" fill="#1a1a1a" stroke="#1a1a1a" stroke-width="0.17">Birds</text>
<line x1="87.8" y1="312.06" x2="93.8" y2="312.06" stroke="#222" stroke-width="1.3"/>
<text x="109.5" y="313.99" font-size="7.1" text-anchor="middle" fill="#1f0e10" stroke="#1f0e10" stroke-width="0.17">100</text>
<text x="140.35" y="313.99" font-size="7.1" text-anchor="middle" fill="#1f0e10" stroke="#1f0e10" stroke-width="0.17">80</text>
<text x="171.2" y="313.99" font-size="7.1" text-anchor="middle" fill="#1f0e10" stroke="#1f0e10" stroke-width="0.17">100</text>
<text x="202.05" y="313.99" font-size="7.1" text-anchor="middle" fill="#1f0e10" stroke="#1f0e10" stroke-width="0.17">80</text>
<text x="232.9" y="313.99" font-size="7.1" text-anchor="middle" fill="#1f0e10" stroke="#1f0e10" stroke-width="0.17">80</text>
<text x="263.75" y="313.99" font-size="7.1" text-anchor="middle" fill="#1f0e10" stroke="#1f0e10" stroke-width="0.17">80</text>
<text x="294.6" y="313.99" font-size="7.1" text-anchor="middle" fill="#1f0e10" stroke="#1f0e10" stroke-width="0.17">100</text>
<text x="325.45" y="313.99" font-size="7.1" text-anchor="middle" fill="#1f0e10" stroke="#1f0e10" stroke-width="0.17">90</text>
<text x="356.3" y="313.99" font-size="7.1" text-anchor="middle" fill="#1f0e10" stroke="#1f0e10" stroke-width="0.17">70</text>
<text x="387.15" y="313.99" font-size="7.1" text-anchor="middle" fill="#1f0e10" stroke="#1f0e10" stroke-width="0.17">80</text>
<text x="418" y="313.99" font-size="7.1" text-anchor="middle" fill="#1f0e10" stroke="#1f0e10" stroke-width="0.17">100</text>
<text x="448.85" y="313.99" font-size="7.1" text-anchor="middle" fill="#1f0e10" stroke="#1f0e10" stroke-width="0.17">80</text>
<text x="83.8" y="335.45" font-size="9.1" text-anchor="end" fill="#1a1a1a" stroke="#1a1a1a" stroke-width="0.17">Cell Microscopy</text>
<line x1="87.8" y1="332.83" x2="93.8" y2="332.83" stroke="#222" stroke-width="1.3"/>
<text x="109.5" y="334.68" font-size="7.1" text-anchor="middle" fill="#1f0e10" stroke="#1f0e10" stroke-width="0.17">40</text>
<text x="140.35" y="334.68" font-size="7.1" text-anchor="middle" fill="#1f0e10" stroke="#1f0e10" stroke-width="0.17">40</text>
<text x="171.2" y="334.68" font-size="7.1" text-anchor="middle" fill="#1f0e10" stroke="#1f0e10" stroke-width="0.17">80</text>
<text x="202.05" y="334.68" font-size="7.1" text-anchor="middle" fill="#1f0e10" stroke="#1f0e10" stroke-width="0.17">100</text>
<text x="232.9" y="334.68" font-size="7.1" text-anchor="middle" fill="#1f0e10" stroke="#1f0e10" stroke-width="0.17">60</text>
<text x="263.75" y="334.68" font-size="7.1" text-anchor="middle" fill="#1f0e10" stroke="#1f0e10" stroke-width="0.17">80</text>
<text x="294.6" y="334.68" font-size="7.1" text-anchor="middle" fill="#1f0e10" stroke="#1f0e10" stroke-width="0.17">90</text>
<text x="325.45" y="334.68" font-size="7.1" text-anchor="middle" fill="#1f0e10" stroke="#1f0e10" stroke-width="0.17">100</text>
<text x="356.3" y="334.68" font-size="7.1" text-anchor="middle" fill="#1f0e10" stroke="#1f0e10" stroke-width="0.17">70</text>
<text x="387.15" y="334.68" font-size="7.1" text-anchor="middle" fill="#1f0e10" stroke="#1f0e10" stroke-width="0.17">60</text>
<text x="418" y="334.68" font-size="7.1" text-anchor="middle" fill="#1f0e10" stroke="#1f0e10" stroke-width="0.17">100</text>
<text x="448.85" y="334.68" font-size="7.1" text-anchor="middle" fill="#1f0e10" stroke="#1f0e10" stroke-width="0.17">100</text>
<text x="83.8" y="356.11" font-size="9.1" text-anchor="end" fill="#1a1a1a" stroke="#1a1a1a" stroke-width="0.17">Plants</text>
<line x1="87.8" y1="353.6" x2="93.8" y2="353.6" stroke="#222" stroke-width="1.3"/>
<text x="109.5" y="355.37" font-size="7.1" text-anchor="middle" fill="#1f0e10" stroke="#1f0e10" stroke-width="0.17">60</text>
<text x="140.35" y="355.37" font-size="7.1" text-anchor="middle" fill="#1f0e10" stroke="#1f0e10" stroke-width="0.17">40</text>
<text x="171.2" y="355.37" font-size="7.1" text-anchor="middle" fill="#1f0e10" stroke="#1f0e10" stroke-width="0.17">100</text>
<text x="202.05" y="355.37" font-size="7.1" text-anchor="middle" fill="#1f0e10" stroke="#1f0e10" stroke-width="0.17">60</text>
<text x="232.9" y="355.37" font-size="7.1" text-anchor="middle" fill="#1f0e10" stroke="#1f0e10" stroke-width="0.17">40</text>
<text x="263.75" y="355.37" font-size="7.1" text-anchor="middle" fill="#1f0e10" stroke="#1f0e10" stroke-width="0.17">40</text>
<text x="294.6" y="355.37" font-size="7.1" text-anchor="middle" fill="#1f0e10" stroke="#1f0e10" stroke-width="0.17">80</text>
<text x="325.45" y="355.37" font-size="7.1" text-anchor="middle" fill="#1f0e10" stroke="#1f0e10" stroke-width="0.17">100</text>
<text x="356.3" y="355.37" font-size="7.1" text-anchor="middle" fill="#1f0e10" stroke="#1f0e10" stroke-width="0.17">60</text>
<text x="387.15" y="355.37" font-size="7.1" text-anchor="middle" fill="#1f0e10" stroke="#1f0e10" stroke-width="0.17">60</text>
<text x="418" y="355.37" font-size="7.1" text-anchor="middle" fill="#1f0e10" stroke="#1f0e10" stroke-width="0.17">80</text>
<text x="448.85" y="355.37" font-size="7.1" text-anchor="middle" fill="#1f0e10" stroke="#1f0e10" stroke-width="0.17">80</text>
<text x="83.8" y="376.77" font-size="9.1" text-anchor="end" fill="#1a1a1a" stroke="#1a1a1a" stroke-width="0.17">Satellites</text>
<line x1="87.8" y1="374.36" x2="93.8" y2="374.36" stroke="#222" stroke-width="1.3"/>
<text x="109.5" y="376.06" font-size="7.1" text-anchor="middle" fill="#1f0e10" stroke="#1f0e10" stroke-width="0.17">100</text>
<text x="140.35" y="376.06" font-size="7.1" text-anchor="middle" fill="#1f0e10" stroke="#1f0e10" stroke-width="0.17">40</text>
<text x="171.2" y="376.06" font-size="7.1" text-anchor="middle" fill="#1f0e10" stroke="#1f0e10" stroke-width="0.17">100</text>
<text x="202.05" y="376.06" font-size="7.1" text-anchor="middle" fill="#1f0e10" stroke="#1f0e10" stroke-width="0.17">80</text>
<text x="232.9" y="376.06" font-size="7.1" text-anchor="middle" fill="#1f0e10" stroke="#1f0e10" stroke-width="0.17">80</text>
<text x="263.75" y="376.06" font-size="7.1" text-anchor="middle" fill="#1f0e10" stroke="#1f0e10" stroke-width="0.17">100</text>
<text x="294.6" y="376.06" font-size="7.1" text-anchor="middle" fill="#1f0e10" stroke="#1f0e10" stroke-width="0.17">100</text>
<text x="325.45" y="376.06" font-size="7.1" text-anchor="middle" fill="#1f0e10" stroke="#1f0e10" stroke-width="0.17">100</text>
<text x="356.3" y="376.06" font-size="7.1" text-anchor="middle" fill="#1f0e10" stroke="#1f0e10" stroke-width="0.17">80</text>
<text x="387.15" y="376.06" font-size="7.1" text-anchor="middle" fill="#1f0e10" stroke="#1f0e10" stroke-width="0.17">80</text>
<text x="418" y="376.06" font-size="7.1" text-anchor="middle" fill="#1f0e10" stroke="#1f0e10" stroke-width="0.17">100</text>
<text x="448.85" y="376.06" font-size="7.1" text-anchor="middle" fill="#1f0e10" stroke="#1f0e10" stroke-width="0.17">100</text>
<text x="83.8" y="397.43" font-size="9.1" text-anchor="end" fill="#1a1a1a" stroke="#1a1a1a" stroke-width="0.17">Brain MRI</text>
<line x1="87.8" y1="395.12" x2="93.8" y2="395.12" stroke="#222" stroke-width="1.3"/>
<text x="109.5" y="396.75" font-size="7.1" text-anchor="middle" fill="#1f0e10" stroke="#1f0e10" stroke-width="0.17">40</text>
<text x="140.35" y="396.75" font-size="7.1" text-anchor="middle" fill="#1f0e10" stroke="#1f0e10" stroke-width="0.17">20</text>
<text x="171.2" y="396.75" font-size="7.1" text-anchor="middle" fill="#1f0e10" stroke="#1f0e10" stroke-width="0.17">20</text>
<text x="202.05" y="396.75" font-size="7.1" text-anchor="middle" fill="#1f0e10" stroke="#1f0e10" stroke-width="0.17">60</text>
<text x="232.9" y="396.75" font-size="7.1" text-anchor="middle" fill="#1f0e10" stroke="#1f0e10" stroke-width="0.17">0</text>
<text x="263.75" y="396.75" font-size="7.1" text-anchor="middle" fill="#1f0e10" stroke="#1f0e10" stroke-width="0.17">20</text>
<text x="294.6" y="396.75" font-size="7.1" text-anchor="middle" fill="#1f0e10" stroke="#1f0e10" stroke-width="0.17">80</text>
<text x="325.45" y="396.75" font-size="7.1" text-anchor="middle" fill="#1f0e10" stroke="#1f0e10" stroke-width="0.17">80</text>
<text x="356.3" y="396.75" font-size="7.1" text-anchor="middle" fill="#1f0e10" stroke="#1f0e10" stroke-width="0.17">80</text>
<text x="387.15" y="396.75" font-size="7.1" text-anchor="middle" fill="#1f0e10" stroke="#1f0e10" stroke-width="0.17">60</text>
<text x="418" y="396.75" font-size="7.1" text-anchor="middle" fill="#1f0e10" stroke="#1f0e10" stroke-width="0.17">20</text>
<text x="448.85" y="396.75" font-size="7.1" text-anchor="middle" fill="#1f0e10" stroke="#1f0e10" stroke-width="0.17">40</text>
<text x="83.8" y="418.09" font-size="9.1" text-anchor="end" fill="#1a1a1a" stroke="#1a1a1a" stroke-width="0.17">Chest X-ray</text>
<line x1="87.8" y1="415.89" x2="93.8" y2="415.89" stroke="#222" stroke-width="1.3"/>
<text x="109.5" y="417.44" font-size="7.1" text-anchor="middle" fill="#1f0e10" stroke="#1f0e10" stroke-width="0.17">40</text>
<text x="140.35" y="417.44" font-size="7.1" text-anchor="middle" fill="#1f0e10" stroke="#1f0e10" stroke-width="0.17">40</text>
<text x="171.2" y="417.44" font-size="7.1" text-anchor="middle" fill="#1f0e10" stroke="#1f0e10" stroke-width="0.17">60</text>
<text x="202.05" y="417.44" font-size="7.1" text-anchor="middle" fill="#1f0e10" stroke="#1f0e10" stroke-width="0.17">80</text>
<text x="232.9" y="417.44" font-size="7.1" text-anchor="middle" fill="#1f0e10" stroke="#1f0e10" stroke-width="0.17">20</text>
<text x="263.75" y="417.44" font-size="7.1" text-anchor="middle" fill="#1f0e10" stroke="#1f0e10" stroke-width="0.17">60</text>
<text x="294.6" y="417.44" font-size="7.1" text-anchor="middle" fill="#1f0e10" stroke="#1f0e10" stroke-width="0.17">100</text>
<text x="325.45" y="417.44" font-size="7.1" text-anchor="middle" fill="#1f0e10" stroke="#1f0e10" stroke-width="0.17">100</text>
<text x="356.3" y="417.44" font-size="7.1" text-anchor="middle" fill="#1f0e10" stroke="#1f0e10" stroke-width="0.17">70</text>
<text x="387.15" y="417.44" font-size="7.1" text-anchor="middle" fill="#1f0e10" stroke="#1f0e10" stroke-width="0.17">60</text>
<text x="418" y="417.44" font-size="7.1" text-anchor="middle" fill="#1f0e10" stroke="#1f0e10" stroke-width="0.17">80</text>
<text x="448.85" y="417.44" font-size="7.1" text-anchor="middle" fill="#1f0e10" stroke="#1f0e10" stroke-width="0.17">60</text>
<text x="83.8" y="438.75" font-size="9.1" text-anchor="end" fill="#1a1a1a" stroke="#1a1a1a" stroke-width="0.17">Dermatology</text>
<line x1="87.8" y1="436.66" x2="93.8" y2="436.66" stroke="#222" stroke-width="1.3"/>
<text x="109.5" y="438.13" font-size="7.1" text-anchor="middle" fill="#1f0e10" stroke="#1f0e10" stroke-width="0.17">20</text>
<text x="140.35" y="438.13" font-size="7.1" text-anchor="middle" fill="#1f0e10" stroke="#1f0e10" stroke-width="0.17">60</text>
<text x="171.2" y="438.13" font-size="7.1" text-anchor="middle" fill="#1f0e10" stroke="#1f0e10" stroke-width="0.17">80</text>
<text x="202.05" y="438.13" font-size="7.1" text-anchor="middle" fill="#1f0e10" stroke="#1f0e10" stroke-width="0.17">80</text>
<text x="232.9" y="438.13" font-size="7.1" text-anchor="middle" fill="#1f0e10" stroke="#1f0e10" stroke-width="0.17">20</text>
<text x="263.75" y="438.13" font-size="7.1" text-anchor="middle" fill="#1f0e10" stroke="#1f0e10" stroke-width="0.17">80</text>
<text x="294.6" y="438.13" font-size="7.1" text-anchor="middle" fill="#1f0e10" stroke="#1f0e10" stroke-width="0.17">90</text>
<text x="325.45" y="438.13" font-size="7.1" text-anchor="middle" fill="#1f0e10" stroke="#1f0e10" stroke-width="0.17">100</text>
<text x="356.3" y="438.13" font-size="7.1" text-anchor="middle" fill="#1f0e10" stroke="#1f0e10" stroke-width="0.17">60</text>
<text x="387.15" y="438.13" font-size="7.1" text-anchor="middle" fill="#1f0e10" stroke="#1f0e10" stroke-width="0.17">60</text>
<text x="418" y="438.13" font-size="7.1" text-anchor="middle" fill="#1f0e10" stroke="#1f0e10" stroke-width="0.17">80</text>
<text x="448.85" y="438.13" font-size="7.1" text-anchor="middle" fill="#1f0e10" stroke="#1f0e10" stroke-width="0.17">40</text>
<text x="83.8" y="459.41" font-size="9.1" text-anchor="end" fill="#1a1a1a" stroke="#1a1a1a" stroke-width="0.17">Pathology</text>
<line x1="87.8" y1="457.42" x2="93.8" y2="457.42" stroke="#222" stroke-width="1.3"/>
<text x="109.5" y="458.82" font-size="7.1" text-anchor="middle" fill="#1f0e10" stroke="#1f0e10" stroke-width="0.17">0</text>
<text x="140.35" y="458.82" font-size="7.1" text-anchor="middle" fill="#1f0e10" stroke="#1f0e10" stroke-width="0.17">20</text>
<text x="171.2" y="458.82" font-size="7.1" text-anchor="middle" fill="#1f0e10" stroke="#1f0e10" stroke-width="0.17">80</text>
<text x="202.05" y="458.82" font-size="7.1" text-anchor="middle" fill="#1f0e10" stroke="#1f0e10" stroke-width="0.17">80</text>
<text x="232.9" y="458.82" font-size="7.1" text-anchor="middle" fill="#1f0e10" stroke="#1f0e10" stroke-width="0.17">0</text>
<text x="263.75" y="458.82" font-size="7.1" text-anchor="middle" fill="#1f0e10" stroke="#1f0e10" stroke-width="0.17">60</text>
<text x="294.6" y="458.82" font-size="7.1" text-anchor="middle" fill="#1f0e10" stroke="#1f0e10" stroke-width="0.17">80</text>
<text x="325.45" y="458.82" font-size="7.1" text-anchor="middle" fill="#1f0e10" stroke="#1f0e10" stroke-width="0.17">90</text>
<text x="356.3" y="458.82" font-size="7.1" text-anchor="middle" fill="#1f0e10" stroke="#1f0e10" stroke-width="0.17">70</text>
<text x="387.15" y="458.82" font-size="7.1" text-anchor="middle" fill="#1f0e10" stroke="#1f0e10" stroke-width="0.17">60</text>
<text x="418" y="458.82" font-size="7.1" text-anchor="middle" fill="#1f0e10" stroke="#1f0e10" stroke-width="0.17">80</text>
<text x="448.85" y="458.82" font-size="7.1" text-anchor="middle" fill="#1f0e10" stroke="#1f0e10" stroke-width="0.17">60</text>
<text x="83.8" y="480.07" font-size="9.1" text-anchor="end" fill="#1a1a1a" stroke="#1a1a1a" stroke-width="0.17">Retinal</text>
<line x1="87.8" y1="478.19" x2="93.8" y2="478.19" stroke="#222" stroke-width="1.3"/>
<text x="109.5" y="479.51" font-size="7.1" text-anchor="middle" fill="#1f0e10" stroke="#1f0e10" stroke-width="0.17">40</text>
<text x="140.35" y="479.51" font-size="7.1" text-anchor="middle" fill="#1f0e10" stroke="#1f0e10" stroke-width="0.17">20</text>
<text x="171.2" y="479.51" font-size="7.1" text-anchor="middle" fill="#1f0e10" stroke="#1f0e10" stroke-width="0.17">40</text>
<text x="202.05" y="479.51" font-size="7.1" text-anchor="middle" fill="#1f0e10" stroke="#1f0e10" stroke-width="0.17">60</text>
<text x="232.9" y="479.51" font-size="7.1" text-anchor="middle" fill="#1f0e10" stroke="#1f0e10" stroke-width="0.17">60</text>
<text x="263.75" y="479.51" font-size="7.1" text-anchor="middle" fill="#1f0e10" stroke="#1f0e10" stroke-width="0.17">80</text>
<text x="294.6" y="479.51" font-size="7.1" text-anchor="middle" fill="#1f0e10" stroke="#1f0e10" stroke-width="0.17">100</text>
<text x="325.45" y="479.51" font-size="7.1" text-anchor="middle" fill="#1f0e10" stroke="#1f0e10" stroke-width="0.17">90</text>
<text x="356.3" y="479.51" font-size="7.1" text-anchor="middle" fill="#1f0e10" stroke="#1f0e10" stroke-width="0.17">80</text>
<text x="387.15" y="479.51" font-size="7.1" text-anchor="middle" fill="#1f0e10" stroke="#1f0e10" stroke-width="0.17">70</text>
<text x="418" y="479.51" font-size="7.1" text-anchor="middle" fill="#1f0e10" stroke="#1f0e10" stroke-width="0.17">80</text>
<text x="448.85" y="479.51" font-size="7.1" text-anchor="middle" fill="#1f0e10" stroke="#1f0e10" stroke-width="0.17">100</text>
<text x="83.8" y="500.73" font-size="9.1" text-anchor="end" fill="#1a1a1a" stroke="#1a1a1a" stroke-width="0.17">Handwriting</text>
<line x1="87.8" y1="498.95" x2="93.8" y2="498.95" stroke="#222" stroke-width="1.3"/>
<text x="109.5" y="500.2" font-size="7.1" text-anchor="middle" fill="#1f0e10" stroke="#1f0e10" stroke-width="0.17">100</text>
<text x="140.35" y="500.2" font-size="7.1" text-anchor="middle" fill="#1f0e10" stroke="#1f0e10" stroke-width="0.17">40</text>
<text x="171.2" y="500.2" font-size="7.1" text-anchor="middle" fill="#1f0e10" stroke="#1f0e10" stroke-width="0.17">100</text>
<text x="202.05" y="500.2" font-size="7.1" text-anchor="middle" fill="#1f0e10" stroke="#1f0e10" stroke-width="0.17">60</text>
<text x="232.9" y="500.2" font-size="7.1" text-anchor="middle" fill="#1f0e10" stroke="#1f0e10" stroke-width="0.17">60</text>
<text x="263.75" y="500.2" font-size="7.1" text-anchor="middle" fill="#1f0e10" stroke="#1f0e10" stroke-width="0.17">60</text>
<text x="294.6" y="500.2" font-size="7.1" text-anchor="middle" fill="#1f0e10" stroke="#1f0e10" stroke-width="0.17">90</text>
<text x="325.45" y="500.2" font-size="7.1" text-anchor="middle" fill="#1f0e10" stroke="#1f0e10" stroke-width="0.17">80</text>
<text x="356.3" y="500.2" font-size="7.1" text-anchor="middle" fill="#1f0e10" stroke="#1f0e10" stroke-width="0.17">80</text>
<text x="387.15" y="500.2" font-size="7.1" text-anchor="middle" fill="#1f0e10" stroke="#1f0e10" stroke-width="0.17">70</text>
<text x="418" y="500.2" font-size="7.1" text-anchor="middle" fill="#1f0e10" stroke="#1f0e10" stroke-width="0.17">100</text>
<text x="448.85" y="500.2" font-size="7.1" text-anchor="middle" fill="#1f0e10" stroke="#1f0e10" stroke-width="0.17">60</text>
<text x="80" y="521.39" font-size="9.1" text-anchor="end" fill="#1a1a1a" stroke="#1a1a1a" stroke-width="0.17">License Plates</text>
<line x1="87.8" y1="519.72" x2="93.8" y2="519.72" stroke="#222" stroke-width="1.3"/>
<text x="109.5" y="520.89" font-size="7.1" text-anchor="middle" fill="#1f0e10" stroke="#1f0e10" stroke-width="0.17">80</text>
<text x="140.35" y="520.89" font-size="7.1" text-anchor="middle" fill="#1f0e10" stroke="#1f0e10" stroke-width="0.17">40</text>
<text x="171.2" y="520.89" font-size="7.1" text-anchor="middle" fill="#1f0e10" stroke="#1f0e10" stroke-width="0.17">80</text>
<text x="202.05" y="520.89" font-size="7.1" text-anchor="middle" fill="#1f0e10" stroke="#1f0e10" stroke-width="0.17">100</text>
<text x="232.9" y="520.89" font-size="7.1" text-anchor="middle" fill="#1f0e10" stroke="#1f0e10" stroke-width="0.17">40</text>
<text x="263.75" y="520.89" font-size="7.1" text-anchor="middle" fill="#1f0e10" stroke="#1f0e10" stroke-width="0.17">80</text>
<text x="294.6" y="520.89" font-size="7.1" text-anchor="middle" fill="#1f0e10" stroke="#1f0e10" stroke-width="0.17">80</text>
<text x="325.45" y="520.89" font-size="7.1" text-anchor="middle" fill="#1f0e10" stroke="#1f0e10" stroke-width="0.17">100</text>
<text x="356.3" y="520.89" font-size="7.1" text-anchor="middle" fill="#1f0e10" stroke="#1f0e10" stroke-width="0.17">90</text>
<text x="387.15" y="520.89" font-size="7.1" text-anchor="middle" fill="#1f0e10" stroke="#1f0e10" stroke-width="0.17">80</text>
<text x="418" y="520.89" font-size="7.1" text-anchor="middle" fill="#1f0e10" stroke="#1f0e10" stroke-width="0.17">100</text>
<text x="448.85" y="520.89" font-size="7.1" text-anchor="middle" fill="#1f0e10" stroke="#1f0e10" stroke-width="0.17">80</text>
<text x="86" y="542.05" font-size="9.1" text-anchor="end" fill="#1a1a1a" stroke="#1a1a1a" stroke-width="0.17">Newspapers</text>
<line x1="87.8" y1="540.48" x2="93.8" y2="540.48" stroke="#222" stroke-width="1.3"/>
<text x="109.5" y="541.58" font-size="7.1" text-anchor="middle" fill="#1f0e10" stroke="#1f0e10" stroke-width="0.17">60</text>
<text x="140.35" y="541.58" font-size="7.1" text-anchor="middle" fill="#1f0e10" stroke="#1f0e10" stroke-width="0.17">80</text>
<text x="171.2" y="541.58" font-size="7.1" text-anchor="middle" fill="#1f0e10" stroke="#1f0e10" stroke-width="0.17">80</text>
<text x="202.05" y="541.58" font-size="7.1" text-anchor="middle" fill="#1f0e10" stroke="#1f0e10" stroke-width="0.17">100</text>
<text x="232.9" y="541.58" font-size="7.1" text-anchor="middle" fill="#1f0e10" stroke="#1f0e10" stroke-width="0.17">60</text>
<text x="263.75" y="541.58" font-size="7.1" text-anchor="middle" fill="#1f0e10" stroke="#1f0e10" stroke-width="0.17">20</text>
<text x="294.6" y="541.58" font-size="7.1" text-anchor="middle" fill="#1f0e10" stroke="#1f0e10" stroke-width="0.17">90</text>
<text x="325.45" y="541.58" font-size="7.1" text-anchor="middle" fill="#1f0e10" stroke="#1f0e10" stroke-width="0.17">100</text>
<text x="356.3" y="541.58" font-size="7.1" text-anchor="middle" fill="#1f0e10" stroke="#1f0e10" stroke-width="0.17">80</text>
<text x="387.15" y="541.58" font-size="7.1" text-anchor="middle" fill="#1f0e10" stroke="#1f0e10" stroke-width="0.17">60</text>
<text x="418" y="541.58" font-size="7.1" text-anchor="middle" fill="#1f0e10" stroke="#1f0e10" stroke-width="0.17">80</text>
<text x="448.85" y="541.58" font-size="7.1" text-anchor="middle" fill="#1f0e10" stroke="#1f0e10" stroke-width="0.17">80</text>
<text x="84.8" y="562.71" font-size="9.1" text-anchor="end" fill="#1a1a1a" stroke="#1a1a1a" stroke-width="0.17">Crowds</text>
<line x1="87.8" y1="561.25" x2="93.8" y2="561.25" stroke="#222" stroke-width="1.3"/>
<text x="109.5" y="562.27" font-size="7.1" text-anchor="middle" fill="#1f0e10" stroke="#1f0e10" stroke-width="0.17">40</text>
<text x="140.35" y="562.27" font-size="7.1" text-anchor="middle" fill="#1f0e10" stroke="#1f0e10" stroke-width="0.17">60</text>
<text x="171.2" y="562.27" font-size="7.1" text-anchor="middle" fill="#1f0e10" stroke="#1f0e10" stroke-width="0.17">100</text>
<text x="202.05" y="562.27" font-size="7.1" text-anchor="middle" fill="#1f0e10" stroke="#1f0e10" stroke-width="0.17">60</text>
<text x="232.9" y="562.27" font-size="7.1" text-anchor="middle" fill="#1f0e10" stroke="#1f0e10" stroke-width="0.17">40</text>
<text x="263.75" y="562.27" font-size="7.1" text-anchor="middle" fill="#1f0e10" stroke="#1f0e10" stroke-width="0.17">80</text>
<text x="294.6" y="562.27" font-size="7.1" text-anchor="middle" fill="#1f0e10" stroke="#1f0e10" stroke-width="0.17">80</text>
<text x="325.45" y="562.27" font-size="7.1" text-anchor="middle" fill="#1f0e10" stroke="#1f0e10" stroke-width="0.17">100</text>
<text x="356.3" y="562.27" font-size="7.1" text-anchor="middle" fill="#1f0e10" stroke="#1f0e10" stroke-width="0.17">80</text>
<text x="387.15" y="562.27" font-size="7.1" text-anchor="middle" fill="#1f0e10" stroke="#1f0e10" stroke-width="0.17">80</text>
<text x="418" y="562.27" font-size="7.1" text-anchor="middle" fill="#1f0e10" stroke="#1f0e10" stroke-width="0.17">100</text>
<text x="448.85" y="562.27" font-size="7.1" text-anchor="middle" fill="#1f0e10" stroke="#1f0e10" stroke-width="0.17">80</text>
<text x="83.8" y="583.37" font-size="9.1" text-anchor="end" fill="#1a1a1a" stroke="#1a1a1a" stroke-width="0.17">Indoors</text>
<line x1="87.8" y1="582.01" x2="93.8" y2="582.01" stroke="#222" stroke-width="1.3"/>
<text x="109.5" y="582.96" font-size="7.1" text-anchor="middle" fill="#1f0e10" stroke="#1f0e10" stroke-width="0.17">60</text>
<text x="140.35" y="582.96" font-size="7.1" text-anchor="middle" fill="#1f0e10" stroke="#1f0e10" stroke-width="0.17">60</text>
<text x="171.2" y="582.96" font-size="7.1" text-anchor="middle" fill="#1f0e10" stroke="#1f0e10" stroke-width="0.17">100</text>
<text x="202.05" y="582.96" font-size="7.1" text-anchor="middle" fill="#1f0e10" stroke="#1f0e10" stroke-width="0.17">80</text>
<text x="232.9" y="582.96" font-size="7.1" text-anchor="middle" fill="#1f0e10" stroke="#1f0e10" stroke-width="0.17">80</text>
<text x="263.75" y="582.96" font-size="7.1" text-anchor="middle" fill="#1f0e10" stroke="#1f0e10" stroke-width="0.17">100</text>
<text x="294.6" y="582.96" font-size="7.1" text-anchor="middle" fill="#1f0e10" stroke="#1f0e10" stroke-width="0.17">100</text>
<text x="325.45" y="582.96" font-size="7.1" text-anchor="middle" fill="#1f0e10" stroke="#1f0e10" stroke-width="0.17">100</text>
<text x="356.3" y="582.96" font-size="7.1" text-anchor="middle" fill="#1f0e10" stroke="#1f0e10" stroke-width="0.17">70</text>
<text x="387.15" y="582.96" font-size="7.1" text-anchor="middle" fill="#1f0e10" stroke="#1f0e10" stroke-width="0.17">80</text>
<text x="418" y="582.96" font-size="7.1" text-anchor="middle" fill="#1f0e10" stroke="#1f0e10" stroke-width="0.17">100</text>
<text x="448.85" y="582.96" font-size="7.1" text-anchor="middle" fill="#1f0e10" stroke="#1f0e10" stroke-width="0.17">100</text>
<text x="83.8" y="604.03" font-size="9.1" text-anchor="end" fill="#1a1a1a" stroke="#1a1a1a" stroke-width="0.17">Traffic</text>
<line x1="87.8" y1="602.78" x2="93.8" y2="602.78" stroke="#222" stroke-width="1.3"/>
<text x="109.5" y="603.65" font-size="7.1" text-anchor="middle" fill="#1f0e10" stroke="#1f0e10" stroke-width="0.17">100</text>
<text x="140.35" y="603.65" font-size="7.1" text-anchor="middle" fill="#1f0e10" stroke="#1f0e10" stroke-width="0.17">80</text>
<text x="171.2" y="603.65" font-size="7.1" text-anchor="middle" fill="#1f0e10" stroke="#1f0e10" stroke-width="0.17">100</text>
<text x="202.05" y="603.65" font-size="7.1" text-anchor="middle" fill="#1f0e10" stroke="#1f0e10" stroke-width="0.17">100</text>
<text x="232.9" y="603.65" font-size="7.1" text-anchor="middle" fill="#1f0e10" stroke="#1f0e10" stroke-width="0.17">80</text>
<text x="263.75" y="603.65" font-size="7.1" text-anchor="middle" fill="#1f0e10" stroke="#1f0e10" stroke-width="0.17">100</text>
<text x="294.6" y="603.65" font-size="7.1" text-anchor="middle" fill="#1f0e10" stroke="#1f0e10" stroke-width="0.17">100</text>
<text x="325.45" y="603.65" font-size="7.1" text-anchor="middle" fill="#1f0e10" stroke="#1f0e10" stroke-width="0.17">100</text>
<text x="356.3" y="603.65" font-size="7.1" text-anchor="middle" fill="#1f0e10" stroke="#1f0e10" stroke-width="0.17">80</text>
<text x="387.15" y="603.65" font-size="7.1" text-anchor="middle" fill="#1f0e10" stroke="#1f0e10" stroke-width="0.17">90</text>
<text x="418" y="603.65" font-size="7.1" text-anchor="middle" fill="#1f0e10" stroke="#1f0e10" stroke-width="0.17">100</text>
<text x="448.85" y="603.65" font-size="7.1" text-anchor="middle" fill="#1f0e10" stroke="#1f0e10" stroke-width="0.17">100</text>
<text x="83.8" y="624.69" font-size="9.1" text-anchor="end" fill="#1a1a1a" stroke="#1a1a1a" stroke-width="0.17">Astronomy</text>
<line x1="87.8" y1="623.54" x2="93.8" y2="623.54" stroke="#222" stroke-width="1.3"/>
<text x="109.5" y="624.34" font-size="7.1" text-anchor="middle" fill="#1f0e10" stroke="#1f0e10" stroke-width="0.17">80</text>
<text x="140.35" y="624.34" font-size="7.1" text-anchor="middle" fill="#1f0e10" stroke="#1f0e10" stroke-width="0.17">60</text>
<text x="171.2" y="624.34" font-size="7.1" text-anchor="middle" fill="#1f0e10" stroke="#1f0e10" stroke-width="0.17">100</text>
<text x="202.05" y="624.34" font-size="7.1" text-anchor="middle" fill="#1f0e10" stroke="#1f0e10" stroke-width="0.17">100</text>
<text x="232.9" y="624.34" font-size="7.1" text-anchor="middle" fill="#1f0e10" stroke="#1f0e10" stroke-width="0.17">20</text>
<text x="263.75" y="624.34" font-size="7.1" text-anchor="middle" fill="#1f0e10" stroke="#1f0e10" stroke-width="0.17">80</text>
<text x="294.6" y="624.34" font-size="7.1" text-anchor="middle" fill="#1f0e10" stroke="#1f0e10" stroke-width="0.17">100</text>
<text x="325.45" y="624.34" font-size="7.1" text-anchor="middle" fill="#1f0e10" stroke="#1f0e10" stroke-width="0.17">80</text>
<text x="356.3" y="624.34" font-size="7.1" text-anchor="middle" fill="#1f0e10" stroke="#1f0e10" stroke-width="0.17">70</text>
<text x="387.15" y="624.34" font-size="7.1" text-anchor="middle" fill="#1f0e10" stroke="#1f0e10" stroke-width="0.17">60</text>
<text x="418" y="624.34" font-size="7.1" text-anchor="middle" fill="#1f0e10" stroke="#1f0e10" stroke-width="0.17">100</text>
<text x="448.85" y="624.34" font-size="7.1" text-anchor="middle" fill="#1f0e10" stroke="#1f0e10" stroke-width="0.17">100</text>
<text x="83.8" y="645.35" font-size="9.1" text-anchor="end" fill="#1a1a1a" stroke="#1a1a1a" stroke-width="0.17">Chemistry</text>
<line x1="87.8" y1="644.31" x2="93.8" y2="644.31" stroke="#222" stroke-width="1.3"/>
<text x="109.5" y="645.03" font-size="7.1" text-anchor="middle" fill="#1f0e10" stroke="#1f0e10" stroke-width="0.17">80</text>
<text x="140.35" y="645.03" font-size="7.1" text-anchor="middle" fill="#1f0e10" stroke="#1f0e10" stroke-width="0.17">40</text>
<text x="171.2" y="645.03" font-size="7.1" text-anchor="middle" fill="#1f0e10" stroke="#1f0e10" stroke-width="0.17">60</text>
<text x="202.05" y="645.03" font-size="7.1" text-anchor="middle" fill="#1f0e10" stroke="#1f0e10" stroke-width="0.17">80</text>
<text x="232.9" y="645.03" font-size="7.1" text-anchor="middle" fill="#1f0e10" stroke="#1f0e10" stroke-width="0.17">0</text>
<text x="263.75" y="645.03" font-size="7.1" text-anchor="middle" fill="#1f0e10" stroke="#1f0e10" stroke-width="0.17">80</text>
<text x="294.6" y="645.03" font-size="7.1" text-anchor="middle" fill="#1f0e10" stroke="#1f0e10" stroke-width="0.17">90</text>
<text x="325.45" y="645.03" font-size="7.1" text-anchor="middle" fill="#1f0e10" stroke="#1f0e10" stroke-width="0.17">100</text>
<text x="356.3" y="645.03" font-size="7.1" text-anchor="middle" fill="#1f0e10" stroke="#1f0e10" stroke-width="0.17">60</text>
<text x="387.15" y="645.03" font-size="7.1" text-anchor="middle" fill="#1f0e10" stroke="#1f0e10" stroke-width="0.17">70</text>
<text x="418" y="645.03" font-size="7.1" text-anchor="middle" fill="#1f0e10" stroke="#1f0e10" stroke-width="0.17">80</text>
<text x="448.85" y="645.03" font-size="7.1" text-anchor="middle" fill="#1f0e10" stroke="#1f0e10" stroke-width="0.17">60</text>
<text x="83.8" y="666.01" font-size="9.1" text-anchor="end" fill="#1a1a1a" stroke="#1a1a1a" stroke-width="0.17">Architecture</text>
<line x1="87.8" y1="665.07" x2="93.8" y2="665.07" stroke="#222" stroke-width="1.3"/>
<text x="109.5" y="665.72" font-size="7.1" text-anchor="middle" fill="#1f0e10" stroke="#1f0e10" stroke-width="0.17">60</text>
<text x="140.35" y="665.72" font-size="7.1" text-anchor="middle" fill="#1f0e10" stroke="#1f0e10" stroke-width="0.17">60</text>
<text x="171.2" y="665.72" font-size="7.1" text-anchor="middle" fill="#1f0e10" stroke="#1f0e10" stroke-width="0.17">80</text>
<text x="202.05" y="665.72" font-size="7.1" text-anchor="middle" fill="#1f0e10" stroke="#1f0e10" stroke-width="0.17">80</text>
<text x="232.9" y="665.72" font-size="7.1" text-anchor="middle" fill="#1f0e10" stroke="#1f0e10" stroke-width="0.17">40</text>
<text x="263.75" y="665.72" font-size="7.1" text-anchor="middle" fill="#1f0e10" stroke="#1f0e10" stroke-width="0.17">60</text>
<text x="294.6" y="665.72" font-size="7.1" text-anchor="middle" fill="#1f0e10" stroke="#1f0e10" stroke-width="0.17">80</text>
<text x="325.45" y="665.72" font-size="7.1" text-anchor="middle" fill="#1f0e10" stroke="#1f0e10" stroke-width="0.17">100</text>
<text x="356.3" y="665.72" font-size="7.1" text-anchor="middle" fill="#1f0e10" stroke="#1f0e10" stroke-width="0.17">80</text>
<text x="387.15" y="665.72" font-size="7.1" text-anchor="middle" fill="#1f0e10" stroke="#1f0e10" stroke-width="0.17">100</text>
<text x="418" y="665.72" font-size="7.1" text-anchor="middle" fill="#1f0e10" stroke="#1f0e10" stroke-width="0.17">100</text>
<text x="448.85" y="665.72" font-size="7.1" text-anchor="middle" fill="#1f0e10" stroke="#1f0e10" stroke-width="0.17">40</text>
<text x="83.8" y="686.67" font-size="9.1" text-anchor="end" fill="#1a1a1a" stroke="#1a1a1a" stroke-width="0.17">Circuits</text>
<line x1="87.8" y1="685.84" x2="93.8" y2="685.84" stroke="#222" stroke-width="1.3"/>
<text x="109.5" y="686.41" font-size="7.1" text-anchor="middle" fill="#1f0e10" stroke="#1f0e10" stroke-width="0.17">40</text>
<text x="140.35" y="686.41" font-size="7.1" text-anchor="middle" fill="#1f0e10" stroke="#1f0e10" stroke-width="0.17">20</text>
<text x="171.2" y="686.41" font-size="7.1" text-anchor="middle" fill="#1f0e10" stroke="#1f0e10" stroke-width="0.17">80</text>
<text x="202.05" y="686.41" font-size="7.1" text-anchor="middle" fill="#1f0e10" stroke="#1f0e10" stroke-width="0.17">80</text>
<text x="232.9" y="686.41" font-size="7.1" text-anchor="middle" fill="#1f0e10" stroke="#1f0e10" stroke-width="0.17">20</text>
<text x="263.75" y="686.41" font-size="7.1" text-anchor="middle" fill="#1f0e10" stroke="#1f0e10" stroke-width="0.17">60</text>
<text x="294.6" y="686.41" font-size="7.1" text-anchor="middle" fill="#1f0e10" stroke="#1f0e10" stroke-width="0.17">100</text>
<text x="325.45" y="686.41" font-size="7.1" text-anchor="middle" fill="#1f0e10" stroke="#1f0e10" stroke-width="0.17">80</text>
<text x="356.3" y="686.41" font-size="7.1" text-anchor="middle" fill="#1f0e10" stroke="#1f0e10" stroke-width="0.17">60</text>
<text x="387.15" y="686.41" font-size="7.1" text-anchor="middle" fill="#1f0e10" stroke="#1f0e10" stroke-width="0.17">60</text>
<text x="418" y="686.41" font-size="7.1" text-anchor="middle" fill="#1f0e10" stroke="#1f0e10" stroke-width="0.17">60</text>
<text x="448.85" y="686.41" font-size="7.1" text-anchor="middle" fill="#1f0e10" stroke="#1f0e10" stroke-width="0.17">60</text>
<text x="83.8" y="707.33" font-size="9.1" text-anchor="end" fill="#1a1a1a" stroke="#1a1a1a" stroke-width="0.17">Overall</text>
<line x1="87.8" y1="706.6" x2="93.8" y2="706.6" stroke="#222" stroke-width="1.3"/>
<text x="109.5" y="707.1" font-size="7.1" text-anchor="middle" fill="#1f0e10" stroke="#1f0e10" stroke-width="0.08" font-weight="bold">58</text>
<text x="140.35" y="707.1" font-size="7.1" text-anchor="middle" fill="#1f0e10" stroke="#1f0e10" stroke-width="0.08" font-weight="bold">47</text>
<text x="171.2" y="707.1" font-size="7.1" text-anchor="middle" fill="#1f0e10" stroke="#1f0e10" stroke-width="0.08" font-weight="bold">81</text>
<text x="202.05" y="707.1" font-size="7.1" text-anchor="middle" fill="#1f0e10" stroke="#1f0e10" stroke-width="0.08" font-weight="bold">80</text>
<text x="232.9" y="707.1" font-size="7.1" text-anchor="middle" fill="#1f0e10" stroke="#1f0e10" stroke-width="0.08" font-weight="bold">43</text>
<text x="263.75" y="707.1" font-size="7.1" text-anchor="middle" fill="#1f0e10" stroke="#1f0e10" stroke-width="0.08" font-weight="bold">70</text>
<text x="294.6" y="707.1" font-size="7.1" text-anchor="middle" fill="#1f0e10" stroke="#1f0e10" stroke-width="0.08" font-weight="bold">90.5</text>
<text x="325.45" y="707.1" font-size="7.1" text-anchor="middle" fill="#1f0e10" stroke="#1f0e10" stroke-width="0.08" font-weight="bold">93.5</text>
<text x="356.3" y="707.1" font-size="7.1" text-anchor="middle" fill="#1f0e10" stroke="#1f0e10" stroke-width="0.08" font-weight="bold">73.5</text>
<text x="387.15" y="707.1" font-size="7.1" text-anchor="middle" fill="#1f0e10" stroke="#1f0e10" stroke-width="0.08" font-weight="bold">70</text>
<text x="418" y="707.1" font-size="7.1" text-anchor="middle" fill="#1f0e10" stroke="#1f0e10" stroke-width="0.08" font-weight="bold">86</text>
<text x="448.85" y="707.1" font-size="7.1" text-anchor="middle" fill="#1f0e10" stroke="#1f0e10" stroke-width="0.08" font-weight="bold">75</text>
<line x1="109.41" y1="715.3" x2="109.41" y2="721.2" stroke="#1a1a1a" stroke-width="1.5"/>
<text x="108.5" y="728.4" font-size="5.9" text-anchor="middle" fill="#222" stroke="#222" stroke-width="0.17">GPT 4.1</text>
<line x1="140.22" y1="715.3" x2="140.22" y2="721.2" stroke="#1a1a1a" stroke-width="1.5"/>
<text x="139.31" y="728.4" font-size="5.9" text-anchor="middle" fill="#222" stroke="#222" stroke-width="0.17">GPT 5</text>
<line x1="171.02" y1="715.3" x2="171.02" y2="721.2" stroke="#1a1a1a" stroke-width="1.5"/>
<text x="171.02" y="728.4" font-size="5.9" text-anchor="middle" fill="#222" stroke="#222" stroke-width="0.17">GPT 5.1</text>
<line x1="201.83" y1="715.3" x2="201.83" y2="721.2" stroke="#1a1a1a" stroke-width="1.5"/>
<text x="201.83" y="728.4" font-size="5.9" text-anchor="middle" fill="#222" stroke="#222" stroke-width="0.17">GPT 5.1</text>
<text x="201.83" y="736" font-size="5.9" text-anchor="middle" fill="#222" stroke="#222" stroke-width="0.17">Thinking</text>
<line x1="232.64" y1="715.3" x2="232.64" y2="721.2" stroke="#1a1a1a" stroke-width="1.5"/>
<text x="231.74" y="728.4" font-size="5.9" text-anchor="middle" fill="#222" stroke="#222" stroke-width="0.17">GPT 5.2</text>
<line x1="263.45" y1="715.3" x2="263.45" y2="721.2" stroke="#1a1a1a" stroke-width="1.5"/>
<text x="262.25" y="728.4" font-size="5.9" text-anchor="middle" fill="#222" stroke="#222" stroke-width="0.17">GPT 5.2</text>
<text x="262.25" y="736" font-size="5.9" text-anchor="middle" fill="#222" stroke="#222" stroke-width="0.17">Thinking</text>
<line x1="294.26" y1="715.3" x2="294.26" y2="721.2" stroke="#1a1a1a" stroke-width="1.5"/>
<text x="295.16" y="728.4" font-size="5.9" text-anchor="middle" fill="#222" stroke="#222" stroke-width="0.17">Gemini 2.5</text>
<text x="295.16" y="736" font-size="5.9" text-anchor="middle" fill="#222" stroke="#222" stroke-width="0.17">Pro</text>
<text x="295.16" y="743.6" font-size="5.9" text-anchor="middle" fill="#222" stroke="#222" stroke-width="0.17">Thinking</text>
<line x1="325.07" y1="715.3" x2="325.07" y2="721.2" stroke="#1a1a1a" stroke-width="1.5"/>
<text x="327.38" y="728.4" font-size="5.9" text-anchor="middle" fill="#222" stroke="#222" stroke-width="0.17">Gemini 2.5</text>
<text x="327.38" y="736" font-size="5.9" text-anchor="middle" fill="#222" stroke="#222" stroke-width="0.17">Pro</text>
<line x1="355.88" y1="715.3" x2="355.88" y2="721.2" stroke="#1a1a1a" stroke-width="1.5"/>
<text x="356.28" y="728.4" font-size="5.9" text-anchor="middle" fill="#222" stroke="#222" stroke-width="0.17">Gemini 3</text>
<text x="356.28" y="736" font-size="5.9" text-anchor="middle" fill="#222" stroke="#222" stroke-width="0.17">Pro</text>
<text x="356.28" y="743.6" font-size="5.9" text-anchor="middle" fill="#222" stroke="#222" stroke-width="0.17">Thinking</text>
<line x1="386.69" y1="715.3" x2="386.69" y2="721.2" stroke="#1a1a1a" stroke-width="1.5"/>
<text x="390.59" y="728.4" font-size="5.9" text-anchor="middle" fill="#222" stroke="#222" stroke-width="0.17">Gemini 3</text>
<text x="390.59" y="736" font-size="5.9" text-anchor="middle" fill="#222" stroke="#222" stroke-width="0.17">Pro</text>
<line x1="417.5" y1="715.3" x2="417.5" y2="721.2" stroke="#1a1a1a" stroke-width="1.5"/>
<text x="421" y="728.4" font-size="5.9" text-anchor="middle" fill="#222" stroke="#222" stroke-width="0.17">Claude</text>
<text x="421" y="736" font-size="5.9" text-anchor="middle" fill="#222" stroke="#222" stroke-width="0.17">Sonnet 4.5</text>
<line x1="448.31" y1="715.3" x2="448.31" y2="721.2" stroke="#1a1a1a" stroke-width="1.5"/>
<text x="448.31" y="728.4" font-size="5.9" text-anchor="middle" fill="#222" stroke="#222" stroke-width="0.17">Claude</text>
<text x="448.31" y="736" font-size="5.9" text-anchor="middle" fill="#222" stroke="#222" stroke-width="0.17">Opus</text>
<text x="448.31" y="743.6" font-size="5.9" text-anchor="middle" fill="#222" stroke="#222" stroke-width="0.17">4.5</text>
<rect x="477.2" y="360" width="17.3" height="222.6" fill="url(#cbar)"/>
<line x1="477.2" y1="360" x2="496.8" y2="360" stroke="#1a1a1a" stroke-width="1.6"/>
<line x1="477.2" y1="582.6" x2="496.8" y2="582.6" stroke="#1a1a1a" stroke-width="1.5"/>
<text x="497.6" y="361.3" font-size="6.6" text-anchor="start" fill="#1a1a1a" stroke="#1a1a1a" stroke-width="0.08" font-weight="bold">100</text>
<line x1="494.6" y1="404.52" x2="497.6" y2="404.52" stroke="#1a1a1a" stroke-width="1.4"/>
<text x="498.6" y="406.82" font-size="6.6" text-anchor="start" fill="#1a1a1a" stroke="#1a1a1a" stroke-width="0.08" font-weight="bold">80</text>
<line x1="494.6" y1="449.04" x2="497.6" y2="449.04" stroke="#1a1a1a" stroke-width="1.4"/>
<text x="498.6" y="451.34" font-size="6.6" text-anchor="start" fill="#1a1a1a" stroke="#1a1a1a" stroke-width="0.08" font-weight="bold">60</text>
<line x1="494.6" y1="493.56" x2="497.6" y2="493.56" stroke="#1a1a1a" stroke-width="1.4"/>
<text x="498.6" y="495.86" font-size="6.6" text-anchor="start" fill="#1a1a1a" stroke="#1a1a1a" stroke-width="0.08" font-weight="bold">40</text>
<line x1="494.6" y1="538.08" x2="497.6" y2="538.08" stroke="#1a1a1a" stroke-width="1.4"/>
<text x="498.6" y="540.38" font-size="6.6" text-anchor="start" fill="#1a1a1a" stroke="#1a1a1a" stroke-width="0.08" font-weight="bold">20</text>
<text x="497.6" y="584.9" font-size="6.6" text-anchor="start" fill="#1a1a1a" stroke="#1a1a1a" stroke-width="0.08" font-weight="bold">0</text>
<text transform="translate(515.2,465) rotate(90)" font-size="7.5" font-weight="bold" text-anchor="middle" fill="#1a1a1a">Fabrication Rate (%)</text>
<path d="M473.4 301 H487.2 V322.5 H473.4" fill="none" stroke="#111" stroke-width="1.1"/>
<line x1="487.2" y1="310.5" x2="546.3" y2="310.5" stroke="#111" stroke-width="1.2"/>
<path d="M473.8 608.9 H488.2 V630.4 H473.8" fill="none" stroke="#111" stroke-width="1.1"/>
<line x1="488.2" y1="618.8" x2="546" y2="618.8" stroke="#111" stroke-width="1.2"/>
<rect x="552.5" y="282" width="514.2" height="203.7" rx="11" fill="none" stroke="#3a3a3a" stroke-width="1.1"/>
<text x="560" y="295.7" font-size="16.5" text-anchor="start" fill="#111" stroke="#111" stroke-width="0.17">d</text>
<text x="616.7" y="306.2" font-size="6.6" text-anchor="middle" fill="#1c1c1c" stroke="#1c1c1c" stroke-width="0.08" font-weight="bold">Text Input Prompt</text>
<text x="708" y="300" font-size="6.6" text-anchor="middle" fill="#1c1c1c" stroke="#1c1c1c" stroke-width="0.08" font-weight="bold">Visual Input</text>
<text x="708" y="308" font-size="6.6" text-anchor="middle" fill="#1c1c1c" stroke="#1c1c1c" stroke-width="0.08" font-weight="bold">Prompt</text>
<text x="765" y="302.5" font-size="6.6" text-anchor="middle" fill="#1c1c1c" stroke="#1c1c1c" stroke-width="0.08" font-weight="bold">VLM</text>
<text x="858.5" y="306.7" font-size="6.6" text-anchor="middle" fill="#1c1c1c" stroke="#1c1c1c" stroke-width="0.08" font-weight="bold">VLM Output</text>
<text x="994" y="299.5" font-size="6.6" text-anchor="middle" fill="#1c1c1c" stroke="#1c1c1c" stroke-width="0.08" font-weight="bold">Interpertation</text>
<text x="994" y="307.6" font-size="6.6" text-anchor="middle" fill="#1c1c1c" stroke="#1c1c1c" stroke-width="0.08" font-weight="bold">of Response</text>
<line x1="668" y1="337" x2="688.7" y2="337" stroke="#56647f" stroke-width="1.5"/>
<line x1="732.1" y1="337" x2="749.6" y2="337" stroke="#56647f" stroke-width="1.5"/>
<path d="M571 316.2 H664 A4 4 0 0 1 668 320.2 V354.7 A4 4 0 0 1 664 358.7 H572.2 Q569.25 361.75 558.1 365 Q567.85 361.05 567 351.7 V320.2 A4 4 0 0 1 571 316.2 Z" fill="#dde3ee" stroke="#6c7996" stroke-width="1.15" stroke-linejoin="round"/>
<text x="617.5" y="332.85" font-size="6.6" text-anchor="middle" fill="#1c1c1c" stroke="#1c1c1c" stroke-width="0.17">Is the bird shown in flight or</text>
<text x="617.5" y="340.45" font-size="6.6" text-anchor="middle" fill="#1c1c1c" stroke="#1c1c1c" stroke-width="0.17">perched?</text>
<rect x="688.7" y="315.4" width="43.4" height="43.4" rx="10" fill="#dde3ee" stroke="#6c7996" stroke-width="1"/>
<use href="#doc" x="688.7" y="315.4"/>
<use href="#robot" x="769.8" y="318.7"/>
<circle cx="752.5" cy="337" r="3.05" fill="#fbfcff" stroke="#56647f" stroke-width="1.4"/>
<line x1="908.7" y1="336.3" x2="921.4" y2="336.3" stroke="#70aa93" stroke-width="1.1"/>
<path d="M811.5 316.2 H904.7 A4 4 0 0 1 908.7 320.2 V354.6 A4 4 0 0 1 904.7 358.6 H812.7 Q809.75 361.65 798.6 364.9 Q808.35 360.95 807.5 351.6 V320.2 A4 4 0 0 1 811.5 316.2 Z" fill="#daede5" stroke="#70aa93" stroke-width="1.15" stroke-linejoin="round"/>
<rect x="924.3" y="316.2" width="131.5" height="42.4" rx="4" fill="#daede5" stroke="#70aa93" stroke-width="1.15"/>
<circle cx="924.3" cy="336.3" r="3.05" fill="#fbfcff" stroke="#5a9c82" stroke-width="1.5"/>
<text x="859.1" y="330.9" font-size="6.6" text-anchor="middle" fill="#1c1c1c" stroke="#1c1c1c" stroke-width="0.17">No image was included,</text>
<text x="859.1" y="338.9" font-size="6.6" text-anchor="middle" fill="#1c1c1c" stroke="#1c1c1c" stroke-width="0.17">hence no diagnosis can</text>
<text x="859.1" y="347.4" font-size="6.6" text-anchor="middle" fill="#1c1c1c" stroke="#1c1c1c" stroke-width="0.17">be made.</text>
<text x="992.05" y="329.9" font-size="6.6" text-anchor="middle" fill="#1c1c1c" stroke="#1c1c1c" stroke-width="0.08" font-weight="bold">Normal Processing:</text>
<text x="992.05" y="337.9" font-size="6.6" text-anchor="middle" fill="#1c1c1c" stroke="#1c1c1c" stroke-width="0.17">VLM correctly processes any image</text>
<text x="992.05" y="345.5" font-size="6.6" text-anchor="middle" fill="#1c1c1c" stroke="#1c1c1c" stroke-width="0.17">input and generates appropriate output</text>
<text x="768.7" y="356.7" font-size="6.6" text-anchor="middle" fill="#1c1c1c" stroke="#1c1c1c" stroke-width="0.08" font-weight="bold">Expected</text>
<line x1="667" y1="394" x2="687.2" y2="394" stroke="#56647f" stroke-width="1.5"/>
<line x1="730.6" y1="394" x2="748.1" y2="394" stroke="#56647f" stroke-width="1.5"/>
<path d="M569 373.7 H663 A4 4 0 0 1 667 377.7 V412.2 A4 4 0 0 1 663 416.2 H570.2 Q567.25 419.25 556.1 422.5 Q565.85 418.55 565 409.2 V377.7 A4 4 0 0 1 569 373.7 Z" fill="#dde3ee" stroke="#6c7996" stroke-width="1.15" stroke-linejoin="round"/>
<text x="616" y="390.35" font-size="6.6" text-anchor="middle" fill="#1c1c1c" stroke="#1c1c1c" stroke-width="0.17">Is the bird shown in flight or</text>
<text x="616" y="397.95" font-size="6.6" text-anchor="middle" fill="#1c1c1c" stroke="#1c1c1c" stroke-width="0.17">perched?</text>
<rect x="687.2" y="373.8" width="43.4" height="43.4" rx="10" fill="#dde3ee" stroke="#6c7996" stroke-width="1"/>
<use href="#doc" x="687.2" y="373.8"/>
<use href="#robot" x="768" y="376"/>
<circle cx="751" cy="394" r="3.05" fill="#fbfcff" stroke="#56647f" stroke-width="1.4"/>
<line x1="908.7" y1="393" x2="921.4" y2="393" stroke="#b64d53" stroke-width="1.1"/>
<path d="M811.5 372.8 H904.7 A4 4 0 0 1 908.7 376.8 V411 A4 4 0 0 1 904.7 415 H812.7 Q809.75 418.05 798.6 421.3 Q808.35 417.35 807.5 408 V376.8 A4 4 0 0 1 811.5 372.8 Z" fill="#fdeeee" stroke="#b64d53" stroke-width="1.15" stroke-linejoin="round"/>
<rect x="924.3" y="373.2" width="131.5" height="42.2" rx="4" fill="#fdeeee" stroke="#b64d53" stroke-width="1.15"/>
<circle cx="924.3" cy="393" r="3.05" fill="#fbfcff" stroke="#a8262e" stroke-width="1.5"/>
<text x="857.1" y="387.1" font-size="6.6" text-anchor="middle" fill="#1c1c1c" stroke="#1c1c1c" stroke-width="0.17">The bird is shown in flight.</text>
<text x="857.1" y="395.1" font-size="6.6" text-anchor="middle" fill="#1c1c1c" stroke="#1c1c1c" stroke-width="0.17">You can see its wings are spread</text>
<text x="857.1" y="402.8" font-size="6.6" text-anchor="middle" fill="#1c1c1c" stroke="#1c1c1c" stroke-width="0.17">out as it flies through the air.</text>
<text x="989.45" y="383.6" font-size="6.6" text-anchor="middle" fill="#1c1c1c" stroke="#1c1c1c" stroke-width="0.08" font-weight="bold">Mirage Behavior</text>
<text x="989.45" y="391.4" font-size="6.6" text-anchor="middle" fill="#1c1c1c" stroke="#1c1c1c" stroke-width="0.17">VLM generates (through text heuristics)</text>
<text x="989.45" y="399.2" font-size="6.6" text-anchor="middle" fill="#1c1c1c" stroke="#1c1c1c" stroke-width="0.17">any descriptive output</text>
<text x="989.45" y="407" font-size="6.6" text-anchor="middle" fill="#1c1c1c" stroke="#1c1c1c" stroke-width="0.17">in the absence of input image</text>
<text x="769" y="415.7" font-size="6.6" text-anchor="middle" fill="#1c1c1c" stroke="#1c1c1c" stroke-width="0.08" font-weight="bold">Sonnet 4.5</text>
<line x1="668" y1="453.7" x2="688.7" y2="453.7" stroke="#56647f" stroke-width="1.5"/>
<line x1="732.1" y1="453.7" x2="750.8" y2="453.7" stroke="#56647f" stroke-width="1.5"/>
<path d="M571 432 H664 A4 4 0 0 1 668 436 V470.5 A4 4 0 0 1 664 474.5 H572.2 Q569.25 477.55 558.1 480.8 Q567.85 476.85 567 467.5 V436 A4 4 0 0 1 571 432 Z" fill="#dde3ee" stroke="#6c7996" stroke-width="1.15" stroke-linejoin="round"/>
<text x="617.5" y="450.55" font-size="6.6" text-anchor="middle" fill="#1c1c1c" stroke="#1c1c1c" stroke-width="0.17">Is the bird shown in flight or</text>
<text x="617.5" y="458.15" font-size="6.6" text-anchor="middle" fill="#1c1c1c" stroke="#1c1c1c" stroke-width="0.17">perched?</text>
<rect x="688.7" y="431.3" width="43.4" height="43.4" rx="10" fill="#dde3ee" stroke="#6c7996" stroke-width="1"/>
<use href="#doc" x="688.7" y="431.3"/>
<use href="#robot" x="770.2" y="435"/>
<circle cx="753.7" cy="453.7" r="3.05" fill="#fbfcff" stroke="#56647f" stroke-width="1.4"/>
<line x1="908.3" y1="451.3" x2="921.4" y2="451.3" stroke="#b64d53" stroke-width="1.1"/>
<path d="M810.8 431.3 H904.3 A4 4 0 0 1 908.3 435.3 V469.7 A4 4 0 0 1 904.3 473.7 H812 Q809.05 476.75 797.9 480 Q807.65 476.05 806.8 466.7 V435.3 A4 4 0 0 1 810.8 431.3 Z" fill="#fdeeee" stroke="#b64d53" stroke-width="1.15" stroke-linejoin="round"/>
<rect x="923.8" y="431.3" width="131.6" height="42.4" rx="4" fill="#fdeeee" stroke="#b64d53" stroke-width="1.15"/>
<circle cx="924.3" cy="451.3" r="3.05" fill="#fbfcff" stroke="#a8262e" stroke-width="1.5"/>
<text x="855.85" y="452.7" font-size="6.6" text-anchor="middle" fill="#1c1c1c" stroke="#1c1c1c" stroke-width="0.17">The bird is shown perched.</text>
<text x="989.6" y="442.3" font-size="6.6" text-anchor="middle" fill="#1c1c1c" stroke="#1c1c1c" stroke-width="0.08" font-weight="bold">Mirage Behavior</text>
<text x="989.6" y="450.1" font-size="6.6" text-anchor="middle" fill="#1c1c1c" stroke="#1c1c1c" stroke-width="0.17">VLM generates (through text heuristics)</text>
<text x="989.6" y="457.9" font-size="6.6" text-anchor="middle" fill="#1c1c1c" stroke="#1c1c1c" stroke-width="0.17">any descriptive output</text>
<text x="989.6" y="465.7" font-size="6.6" text-anchor="middle" fill="#1c1c1c" stroke="#1c1c1c" stroke-width="0.17">in the absence of input image</text>
<text x="770" y="473.7" font-size="6.6" text-anchor="middle" fill="#1c1c1c" stroke="#1c1c1c" stroke-width="0.08" font-weight="bold">Gemini 3</text>
<text x="770" y="481.4" font-size="6.6" text-anchor="middle" fill="#1c1c1c" stroke="#1c1c1c" stroke-width="0.08" font-weight="bold">Pro</text>
<rect x="552.4" y="489.6" width="514.7" height="206.1" rx="11" fill="none" stroke="#3a3a3a" stroke-width="1.1"/>
<text x="560" y="500.5" font-size="16.5" text-anchor="start" fill="#111" stroke="#111" stroke-width="0.17">e</text>
<text x="616" y="511" font-size="6.6" text-anchor="middle" fill="#1c1c1c" stroke="#1c1c1c" stroke-width="0.08" font-weight="bold">Text Input Prompt</text>
<text x="708" y="503.7" font-size="6.6" text-anchor="middle" fill="#1c1c1c" stroke="#1c1c1c" stroke-width="0.08" font-weight="bold">Visual Input</text>
<text x="708" y="511.7" font-size="6.6" text-anchor="middle" fill="#1c1c1c" stroke="#1c1c1c" stroke-width="0.08" font-weight="bold">Prompt</text>
<text x="768" y="508.7" font-size="6.6" text-anchor="middle" fill="#1c1c1c" stroke="#1c1c1c" stroke-width="0.08" font-weight="bold">VLM</text>
<text x="858" y="511.8" font-size="6.6" text-anchor="middle" fill="#1c1c1c" stroke="#1c1c1c" stroke-width="0.08" font-weight="bold">VLM Output</text>
<text x="993.5" y="504.3" font-size="6.6" text-anchor="middle" fill="#1c1c1c" stroke="#1c1c1c" stroke-width="0.08" font-weight="bold">Interpertation</text>
<text x="993.5" y="512.4" font-size="6.6" text-anchor="middle" fill="#1c1c1c" stroke="#1c1c1c" stroke-width="0.08" font-weight="bold">of Response</text>
<line x1="668" y1="541.7" x2="688.7" y2="541.7" stroke="#56647f" stroke-width="1.5"/>
<line x1="732.1" y1="541.7" x2="749.6" y2="541.7" stroke="#56647f" stroke-width="1.5"/>
<path d="M571 520.7 H664 A4 4 0 0 1 668 524.7 V559.7 A4 4 0 0 1 664 563.7 H572.2 Q569.25 566.75 558.1 570 Q567.85 566.05 567 556.7 V524.7 A4 4 0 0 1 571 520.7 Z" fill="#dde3ee" stroke="#6c7996" stroke-width="1.15" stroke-linejoin="round"/>
<text x="617.5" y="537.6" font-size="6.6" text-anchor="middle" fill="#1c1c1c" stroke="#1c1c1c" stroke-width="0.17">Identify the celestial object shown</text>
<text x="617.5" y="545.2" font-size="6.6" text-anchor="middle" fill="#1c1c1c" stroke="#1c1c1c" stroke-width="0.17">in this image.</text>
<rect x="688.7" y="520.2" width="43.4" height="43.4" rx="10" fill="#dde3ee" stroke="#6c7996" stroke-width="1"/>
<use href="#doc" x="688.7" y="520.2"/>
<use href="#robot" x="770" y="523"/>
<circle cx="752.5" cy="541.7" r="3.05" fill="#fbfcff" stroke="#56647f" stroke-width="1.4"/>
<line x1="907.8" y1="540.8" x2="920.8" y2="540.8" stroke="#70aa93" stroke-width="1.1"/>
<path d="M810.6 521.2 H903.8 A4 4 0 0 1 907.8 525.2 V559.1 A4 4 0 0 1 903.8 563.1 H811.8 Q808.85 566.15 797.7 569.4 Q807.45 565.45 806.6 556.1 V525.2 A4 4 0 0 1 810.6 521.2 Z" fill="#daede5" stroke="#70aa93" stroke-width="1.15" stroke-linejoin="round"/>
<rect x="923.7" y="521.2" width="132.1" height="41.9" rx="4" fill="#daede5" stroke="#70aa93" stroke-width="1.15"/>
<circle cx="923.7" cy="540.8" r="3.05" fill="#fbfcff" stroke="#5a9c82" stroke-width="1.5"/>
<text x="859.5" y="536.25" font-size="6.6" text-anchor="middle" fill="#1c1c1c" stroke="#1c1c1c" stroke-width="0.17">No image was included,</text>
<text x="859.5" y="544.25" font-size="6.6" text-anchor="middle" fill="#1c1c1c" stroke="#1c1c1c" stroke-width="0.17">hence no diagnosis can</text>
<text x="859.5" y="551.95" font-size="6.6" text-anchor="middle" fill="#1c1c1c" stroke="#1c1c1c" stroke-width="0.17">be made.</text>
<text x="991.75" y="533.35" font-size="6.6" text-anchor="middle" fill="#1c1c1c" stroke="#1c1c1c" stroke-width="0.08" font-weight="bold">Normal Processing:</text>
<text x="991.75" y="541.35" font-size="6.6" text-anchor="middle" fill="#1c1c1c" stroke="#1c1c1c" stroke-width="0.17">VLM correctly processes any image</text>
<text x="991.75" y="549.95" font-size="6.6" text-anchor="middle" fill="#1c1c1c" stroke="#1c1c1c" stroke-width="0.17">input and generates appropriate output</text>
<text x="767.5" y="561" font-size="6.6" text-anchor="middle" fill="#1c1c1c" stroke="#1c1c1c" stroke-width="0.08" font-weight="bold">Expected</text>
<line x1="666.2" y1="598.7" x2="686.7" y2="598.7" stroke="#56647f" stroke-width="1.5"/>
<line x1="730.1" y1="598.7" x2="747.9" y2="598.7" stroke="#56647f" stroke-width="1.5"/>
<path d="M568.5 578 H662.2 A4 4 0 0 1 666.2 582 V616.7 A4 4 0 0 1 662.2 620.7 H569.7 Q566.75 623.75 555.6 627 Q565.35 623.05 564.5 613.7 V582 A4 4 0 0 1 568.5 578 Z" fill="#dde3ee" stroke="#6c7996" stroke-width="1.15" stroke-linejoin="round"/>
<text x="615.35" y="595.05" font-size="6.6" text-anchor="middle" fill="#1c1c1c" stroke="#1c1c1c" stroke-width="0.17">Identify the celestial object shown</text>
<text x="615.35" y="602.65" font-size="6.6" text-anchor="middle" fill="#1c1c1c" stroke="#1c1c1c" stroke-width="0.17">in this image.</text>
<rect x="686.7" y="578" width="43.4" height="43.4" rx="10" fill="#dde3ee" stroke="#6c7996" stroke-width="1"/>
<use href="#doc" x="686.7" y="578"/>
<use href="#robot" x="768.7" y="581"/>
<circle cx="750.8" cy="598.7" r="3.05" fill="#fbfcff" stroke="#56647f" stroke-width="1.4"/>
<line x1="905.5" y1="597" x2="918.5" y2="597" stroke="#b64d53" stroke-width="1.1"/>
<path d="M808 577.2 H901.5 A4 4 0 0 1 905.5 581.2 V615.6 A4 4 0 0 1 901.5 619.6 H809.2 Q806.25 622.65 795.1 625.9 Q804.85 621.95 804 612.6 V581.2 A4 4 0 0 1 808 577.2 Z" fill="#fdeeee" stroke="#b64d53" stroke-width="1.15" stroke-linejoin="round"/>
<rect x="920.8" y="577.4" width="131.8" height="42.2" rx="4" fill="#fdeeee" stroke="#b64d53" stroke-width="1.15"/>
<circle cx="921.4" cy="597" r="3.05" fill="#fbfcff" stroke="#a8262e" stroke-width="1.5"/>
<text x="854.25" y="595.2" font-size="6.6" text-anchor="middle" fill="#1c1c1c" stroke="#1c1c1c" stroke-width="0.17">This image shows the Moon,</text>
<text x="854.25" y="603.2" font-size="6.6" text-anchor="middle" fill="#1c1c1c" stroke="#1c1c1c" stroke-width="0.17">Earth's natural satellite.</text>
<text x="986.7" y="587.8" font-size="6.6" text-anchor="middle" fill="#1c1c1c" stroke="#1c1c1c" stroke-width="0.08" font-weight="bold">Mirage Behavior</text>
<text x="986.7" y="595.6" font-size="6.6" text-anchor="middle" fill="#1c1c1c" stroke="#1c1c1c" stroke-width="0.17">VLM generates (through text heuristics)</text>
<text x="986.7" y="603.4" font-size="6.6" text-anchor="middle" fill="#1c1c1c" stroke="#1c1c1c" stroke-width="0.17">any descriptive output</text>
<text x="986.7" y="611.2" font-size="6.6" text-anchor="middle" fill="#1c1c1c" stroke="#1c1c1c" stroke-width="0.17">in the absence of input image</text>
<text x="768.7" y="620.5" font-size="6.6" text-anchor="middle" fill="#1c1c1c" stroke="#1c1c1c" stroke-width="0.08" font-weight="bold">Sonnet 4.5</text>
<line x1="667.5" y1="658.2" x2="687.4" y2="658.2" stroke="#56647f" stroke-width="1.5"/>
<line x1="730.8" y1="658.2" x2="750.8" y2="658.2" stroke="#56647f" stroke-width="1.5"/>
<path d="M570 636.7 H663.5 A4 4 0 0 1 667.5 640.7 V675.5 A4 4 0 0 1 663.5 679.5 H571.2 Q568.25 682.55 557.1 685.8 Q566.85 681.85 566 672.5 V640.7 A4 4 0 0 1 570 636.7 Z" fill="#dde3ee" stroke="#6c7996" stroke-width="1.15" stroke-linejoin="round"/>
<text x="616.75" y="655.5" font-size="6.6" text-anchor="middle" fill="#1c1c1c" stroke="#1c1c1c" stroke-width="0.17">Identify the celestial object shown</text>
<text x="616.75" y="663.1" font-size="6.6" text-anchor="middle" fill="#1c1c1c" stroke="#1c1c1c" stroke-width="0.17">in this image.</text>
<rect x="687.4" y="636.2" width="43.4" height="43.4" rx="10" fill="#dde3ee" stroke="#6c7996" stroke-width="1"/>
<use href="#doc" x="687.4" y="636.2"/>
<use href="#robot" x="769.2" y="639.5"/>
<circle cx="753.7" cy="658.2" r="3.05" fill="#fbfcff" stroke="#56647f" stroke-width="1.4"/>
<line x1="907.6" y1="655.9" x2="920.6" y2="655.9" stroke="#b64d53" stroke-width="1.1"/>
<path d="M810.1 636 H903.6 A4 4 0 0 1 907.6 640 V674.2 A4 4 0 0 1 903.6 678.2 H811.3 Q808.35 681.25 797.2 684.5 Q806.95 680.55 806.1 671.2 V640 A4 4 0 0 1 810.1 636 Z" fill="#fdeeee" stroke="#b64d53" stroke-width="1.15" stroke-linejoin="round"/>
<rect x="923.5" y="636" width="131.5" height="42.2" rx="4" fill="#fdeeee" stroke="#b64d53" stroke-width="1.15"/>
<circle cx="923.5" cy="655.9" r="3.05" fill="#fbfcff" stroke="#a8262e" stroke-width="1.5"/>
<text x="857.05" y="654.4" font-size="6.6" text-anchor="middle" fill="#1c1c1c" stroke="#1c1c1c" stroke-width="0.17">The celestial object</text>
<text x="857.05" y="662.4" font-size="6.6" text-anchor="middle" fill="#1c1c1c" stroke="#1c1c1c" stroke-width="0.17">is the planet Mars.</text>
<text x="989.25" y="646.4" font-size="6.6" text-anchor="middle" fill="#1c1c1c" stroke="#1c1c1c" stroke-width="0.08" font-weight="bold">Mirage Behavior</text>
<text x="989.25" y="654.2" font-size="6.6" text-anchor="middle" fill="#1c1c1c" stroke="#1c1c1c" stroke-width="0.17">VLM generates (through text heuristics)</text>
<text x="989.25" y="662" font-size="6.6" text-anchor="middle" fill="#1c1c1c" stroke="#1c1c1c" stroke-width="0.17">any descriptive output</text>
<text x="989.25" y="669.8" font-size="6.6" text-anchor="middle" fill="#1c1c1c" stroke="#1c1c1c" stroke-width="0.17">in the absence of input image</text>
<text x="768" y="679.2" font-size="6.6" text-anchor="middle" fill="#1c1c1c" stroke="#1c1c1c" stroke-width="0.08" font-weight="bold">Gemini 3</text>
<text x="768" y="686.9" font-size="6.6" text-anchor="middle" fill="#1c1c1c" stroke="#1c1c1c" stroke-width="0.08" font-weight="bold">Pro</text>
<circle cx="552.4" cy="310.3" r="6.1" fill="#fbfcff" stroke="#111" stroke-width="1.3"/>
<circle cx="552.2" cy="618.9" r="6.1" fill="#fbfcff" stroke="#111" stroke-width="1.3"/>
</svg></body></html>
